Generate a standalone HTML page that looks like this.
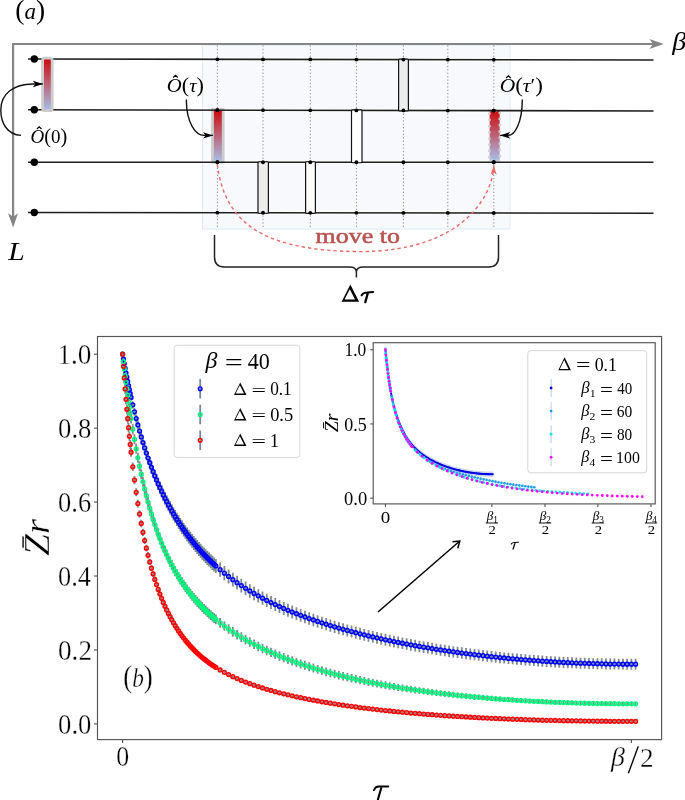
<!DOCTYPE html><html><head><meta charset="utf-8"><style>html,body{margin:0;padding:0;background:#fff;width:685px;height:800px;overflow:hidden}svg{display:block;will-change:transform}text{font-family:"Liberation Serif",serif}</style></head><body>
<svg width="685" height="800" viewBox="0 0 685 800">
<defs><linearGradient id="gr" x1="0" y1="0" x2="0" y2="1"><stop offset="0" stop-color="#cc0a0a"/><stop offset="1" stop-color="#a9c0ea"/></linearGradient><marker id="ah" viewBox="0 0 10 10" refX="10" refY="5" markerWidth="10" markerHeight="10" markerUnits="userSpaceOnUse" orient="auto"><path d="M0,1.8 L10,5 L0,8.2 L2.6,5 z" fill="#000"/></marker><marker id="ahr" viewBox="0 0 10 10" refX="10" refY="5" markerWidth="9" markerHeight="9" markerUnits="userSpaceOnUse" orient="auto"><path d="M0,1.5 L10,5 L0,8.5 L2.6,5 z" fill="#ea6b66"/></marker></defs>
<rect x="202.5" y="45" width="307.5" height="184" fill="#f7f9fd" stroke="#dfe8f6" stroke-width="1"/>
<path d="M12.1,44 H655 M13.1,43 V220" stroke="#858585" stroke-width="2.2" fill="none"/>
<path d="M663.8,44 L649.4,39.1 L653,44 L649.4,48.9 z" fill="#858585"/>
<path d="M13.1,227.6 L8.1,213.2 L13.1,216.8 L18.1,213.2 z" fill="#858585"/>
<line x1="217.4" y1="45.5" x2="217.4" y2="229" stroke="#7a7a7a" stroke-width="0.9" stroke-dasharray="1.2 2.2"/>
<line x1="263.0" y1="45.5" x2="263.0" y2="229" stroke="#7a7a7a" stroke-width="0.9" stroke-dasharray="1.2 2.2"/>
<line x1="310.3" y1="45.5" x2="310.3" y2="229" stroke="#7a7a7a" stroke-width="0.9" stroke-dasharray="1.2 2.2"/>
<line x1="356.4" y1="45.5" x2="356.4" y2="229" stroke="#7a7a7a" stroke-width="0.9" stroke-dasharray="1.2 2.2"/>
<line x1="403.4" y1="45.5" x2="403.4" y2="229" stroke="#7a7a7a" stroke-width="0.9" stroke-dasharray="1.2 2.2"/>
<line x1="447.8" y1="45.5" x2="447.8" y2="229" stroke="#7a7a7a" stroke-width="0.9" stroke-dasharray="1.2 2.2"/>
<line x1="493.8" y1="45.5" x2="493.8" y2="229" stroke="#7a7a7a" stroke-width="0.9" stroke-dasharray="1.2 2.2"/>
<rect x="212.5" y="109.4" width="10.7" height="52.7" fill="url(#gr)" stroke="#cbcbcb" stroke-width="2.8"/>
<rect x="489.6" y="110.5" width="10.1" height="50.5" fill="url(#gr)"/>
<rect x="489.4" y="110.8" width="10.4" height="50" fill="none" stroke="#d0d0d0" stroke-width="2.9" stroke-linecap="round" stroke-dasharray="0 6.2"/>
<line x1="202.5" y1="59.28" x2="210.8" y2="59.29" stroke="#fff" stroke-width="3.6"/>
<line x1="224.6" y1="59.31" x2="488.2" y2="59.74" stroke="#fff" stroke-width="3.6"/>
<line x1="501.2" y1="59.76" x2="510" y2="59.77" stroke="#fff" stroke-width="3.6"/>
<line x1="28" y1="59.0" x2="653.5" y2="60.0" stroke="#1e1e1e" stroke-width="1.55"/>
<line x1="202.5" y1="110.11" x2="210.8" y2="110.12" stroke="#fff" stroke-width="3.6"/>
<line x1="224.6" y1="110.15" x2="488.2" y2="110.61" stroke="#fff" stroke-width="3.6"/>
<line x1="501.2" y1="110.63" x2="510" y2="110.65" stroke="#fff" stroke-width="3.6"/>
<line x1="28" y1="109.8" x2="653.5" y2="110.9" stroke="#1e1e1e" stroke-width="1.55"/>
<line x1="202.5" y1="162.23" x2="210.8" y2="162.23" stroke="#fff" stroke-width="3.6"/>
<line x1="224.6" y1="162.23" x2="488.2" y2="162.27" stroke="#fff" stroke-width="3.6"/>
<line x1="501.2" y1="162.28" x2="510" y2="162.28" stroke="#fff" stroke-width="3.6"/>
<line x1="28" y1="162.2" x2="653.5" y2="162.3" stroke="#1e1e1e" stroke-width="1.55"/>
<line x1="202.5" y1="212.70" x2="210.8" y2="212.70" stroke="#fff" stroke-width="3.6"/>
<line x1="224.6" y1="212.72" x2="488.2" y2="213.02" stroke="#fff" stroke-width="3.6"/>
<line x1="501.2" y1="213.03" x2="510" y2="213.04" stroke="#fff" stroke-width="3.6"/>
<line x1="28" y1="212.5" x2="653.5" y2="213.2" stroke="#1e1e1e" stroke-width="1.55"/>
<circle cx="34.3" cy="59.01" r="3.7" fill="#000"/>
<circle cx="34.3" cy="109.81" r="3.7" fill="#000"/>
<circle cx="34.3" cy="162.20" r="3.7" fill="#000"/>
<circle cx="34.3" cy="212.51" r="3.7" fill="#000"/>
<rect x="398.6" y="59.10" width="9.799999999999955" height="51.86" fill="#ececec" stroke="#111" stroke-width="1.2" rx="1"/>
<rect x="351.5" y="109.88" width="10.5" height="52.87" fill="#ffffff" stroke="#111" stroke-width="1.2" rx="1"/>
<rect x="258.0" y="161.74" width="10.399999999999977" height="51.53" fill="#ececec" stroke="#111" stroke-width="1.2" rx="1"/>
<rect x="305.6" y="161.75" width="9.799999999999955" height="51.57" fill="#ffffff" stroke="#111" stroke-width="1.2" rx="1"/>
<circle cx="217.4" cy="59.30" r="1.9" fill="#000"/>
<circle cx="217.4" cy="110.13" r="1.9" fill="#000"/>
<circle cx="217.4" cy="162.23" r="1.9" fill="#000"/>
<circle cx="217.4" cy="212.71" r="1.9" fill="#000"/>
<circle cx="263.0" cy="59.38" r="1.9" fill="#000"/>
<circle cx="263.0" cy="110.21" r="1.9" fill="#000"/>
<circle cx="263.0" cy="162.24" r="1.9" fill="#000"/>
<circle cx="263.0" cy="212.76" r="1.9" fill="#000"/>
<circle cx="310.3" cy="59.45" r="1.9" fill="#000"/>
<circle cx="310.3" cy="110.30" r="1.9" fill="#000"/>
<circle cx="310.3" cy="162.25" r="1.9" fill="#000"/>
<circle cx="310.3" cy="212.82" r="1.9" fill="#000"/>
<circle cx="356.4" cy="59.53" r="1.9" fill="#000"/>
<circle cx="356.4" cy="110.38" r="1.9" fill="#000"/>
<circle cx="356.4" cy="162.25" r="1.9" fill="#000"/>
<circle cx="356.4" cy="212.87" r="1.9" fill="#000"/>
<circle cx="403.4" cy="59.60" r="1.9" fill="#000"/>
<circle cx="403.4" cy="110.46" r="1.9" fill="#000"/>
<circle cx="403.4" cy="162.26" r="1.9" fill="#000"/>
<circle cx="403.4" cy="212.92" r="1.9" fill="#000"/>
<circle cx="447.8" cy="59.67" r="1.9" fill="#000"/>
<circle cx="447.8" cy="110.54" r="1.9" fill="#000"/>
<circle cx="447.8" cy="162.27" r="1.9" fill="#000"/>
<circle cx="447.8" cy="212.97" r="1.9" fill="#000"/>
<circle cx="493.8" cy="59.74" r="1.9" fill="#000"/>
<circle cx="493.8" cy="110.62" r="1.9" fill="#000"/>
<circle cx="493.8" cy="162.27" r="1.9" fill="#000"/>
<circle cx="493.8" cy="213.02" r="1.9" fill="#000"/>
<rect x="42.6" y="58.2" width="9.6" height="52.4" rx="2.2" fill="url(#gr)" stroke="#cbcbcb" stroke-width="2.8"/>
<circle cx="217.4" cy="110.13" r="1.9" fill="#000"/>
<circle cx="217.4" cy="162.23" r="1.9" fill="#000"/>
<circle cx="493.8" cy="110.62" r="1.9" fill="#000"/>
<circle cx="493.8" cy="162.27" r="1.9" fill="#000"/>
<path d="M21,135.4 C7,134.5 0.8,123 0.8,110 C0.8,93 14,84.2 33,84 L42.9,83.9" stroke="#111" stroke-width="1.4" fill="none" marker-end="url(#ah)"/>
<path d="M186.3,99.5 C186.5,124 196,135.4 204,135.4 L213,135.4" stroke="#111" stroke-width="1.4" fill="none" marker-end="url(#ah)"/>
<path d="M522.3,99.5 C522.3,124 514,135.2 509,135.3 L500.1,135.4" stroke="#111" stroke-width="1.4" fill="none" marker-end="url(#ah)"/>
<path d="M217.3,164.5 C225.3,227.2 268.9,250.4 358,251.6 C468.4,252 493.3,190.4 493.8,165.6" stroke="#ea6b66" stroke-width="1.4" fill="none" stroke-dasharray="3.4 3" marker-end="url(#ahr)"/>
<path d="M214.5,235 V257 Q214.5,267 224.5,267 H349.5 Q356.4,267 356.4,272 V277.5 M356.4,272 Q356.4,267 363.3,267 H488.5 Q498.5,267 498.5,257 V235" stroke="#222" stroke-width="1.5" fill="none"/>
<text transform="translate(15.280,18.509) scale(1.0563,1.0894)" font-size="26" fill="#000" >(<tspan font-style="italic" font-size="21.8">a</tspan>)</text>
<text transform="translate(672.337,50.436) scale(1.0741,0.9389)" font-size="26" fill="#000" ><tspan font-style="italic">β</tspan></text>
<text transform="translate(8.210,260.400) scale(1.2400,1.0730)" font-size="24" fill="#000" ><tspan font-style="italic">L</tspan></text>
<text transform="translate(30.600,143.468) scale(1.0000,1.0192)" font-size="19" fill="#000" ><tspan font-style="italic">O</tspan><tspan font-size="20.4">(</tspan>0<tspan font-size="20.4">)</tspan></text>
<text transform="translate(166.809,92.468) scale(1.0915,1.0192)" font-size="19" fill="#000" ><tspan font-style="italic">O</tspan><tspan font-size="20.4">(</tspan><tspan font-style="italic">τ</tspan><tspan font-size="20.4">)</tspan></text>
<text transform="translate(499.671,92.499) scale(1.1288,1.0356)" font-size="19" fill="#000" ><tspan font-style="italic">O</tspan><tspan font-size="20.4">(</tspan><tspan font-style="italic">τ</tspan>′<tspan font-size="20.4">)</tspan></text>
<text transform="translate(315.481,242.944) scale(1.2373,1.0250)" font-size="21"  fill="#b85450" stroke="#b85450" stroke-width="0.55">move to</text>
<path d="M341.60,301.70 L350.35,284.50 L359.10,301.70 Z M344.51,299.50 L355.06,299.50 L349.79,289.13 Z" fill="#000" fill-rule="evenodd"/>
<path d="M361.6,295.4 C362.6,293.2 364.6,292.4 367.2,292.4 L373.1,292.1" stroke="#000" stroke-width="2" fill="none" stroke-linecap="round"/>
<path d="M367.9,292.8 C367.1,296 366.1,299.2 365.3,302.1" stroke="#000" stroke-width="2.3" fill="none" stroke-linecap="round"/>
<path d="M36.90,129.00 L39.20,126.80 L41.50,129.00" stroke="#000" stroke-width="1.15" fill="none" stroke-linejoin="miter"/>
<path d="M173.20,77.50 L175.50,75.30 L177.80,77.50" stroke="#000" stroke-width="1.15" fill="none" stroke-linejoin="miter"/>
<path d="M506.10,78.00 L508.40,75.80 L510.70,78.00" stroke="#000" stroke-width="1.15" fill="none" stroke-linejoin="miter"/>
<path d="M122.60,353.20V355.20M123.45,357.52V360.59M124.30,362.01V365.54M125.14,366.39V370.36M125.99,370.66V375.04M126.84,374.82V379.60M127.69,378.88V384.04M128.54,382.83V388.37M129.38,386.69V392.58M130.23,390.45V396.68M131.08,394.13V400.68M132.78,401.22V408.38M134.47,407.98V415.70M136.17,414.43V422.68M137.86,420.60V429.32M139.56,426.51V435.67M141.26,432.16V441.72M142.95,437.58V447.51M144.65,442.78V453.05M146.34,447.77V458.35M148.04,452.56V463.44M149.74,457.17V468.31M151.43,461.61V473.00M153.13,465.89V477.50M154.82,470.01V481.83M156.52,473.98V485.99M158.22,477.82V490.00M159.91,481.53V493.87M161.61,485.11V497.60M163.30,488.57V501.20M165.00,491.93V504.68M166.70,495.18V508.05M168.39,498.32V511.30M170.09,501.37V514.45M171.78,504.33V517.49M173.48,507.20V520.45M175.18,509.99V523.31M176.87,512.69V526.09M178.57,515.32V528.78M180.26,517.88V531.40M181.96,520.37V533.94M183.66,522.79V536.41M185.35,525.14V538.81M187.05,527.44V541.15M188.74,529.67V543.42M190.44,531.85V545.64M192.14,533.97V547.79M193.83,536.04V549.89M195.53,538.06V551.94M197.22,540.03V553.93M198.92,541.95V555.88M200.62,543.83V557.78M202.31,545.66V559.63M204.01,547.45V561.44M205.70,549.20V563.21M207.40,550.91V564.93M209.10,552.58V566.62M210.79,554.22V568.27M212.49,555.82V569.88M214.18,557.38V571.45M215.88,558.91V572.99M220.12,562.60V576.70M224.36,566.10V580.22M228.60,569.48V583.50M232.84,572.69V586.62M237.08,575.76V589.59M241.32,578.69V592.43M245.56,581.48V595.13M249.80,584.15V597.71M254.04,586.71V600.18M258.28,589.16V602.55M262.52,591.51V604.81M266.76,593.76V606.99M271.00,595.93V609.08M275.24,598.01V611.09M279.48,600.02V613.02M283.72,601.95V614.88M287.96,603.82V616.68M292.20,605.62V618.41M296.44,607.35V620.08M300.68,609.03V621.70M304.92,610.65V623.26M309.16,612.23V624.77M313.40,613.75V626.23M317.64,615.22V627.65M321.88,616.65V629.03M326.12,618.04V630.37M330.36,619.38V631.66M334.60,620.69V632.92M338.84,621.96V634.14M343.08,623.20V635.33M347.32,624.40V636.49M351.56,625.56V637.62M355.80,626.70V638.71M360.04,627.81V639.78M364.28,628.89V640.82M368.52,629.93V641.83M372.76,630.96V642.82M377.00,631.95V643.78M381.24,632.92V644.71M385.48,633.87V645.63M389.72,634.79V646.52M393.96,635.69V647.39M398.20,636.57V648.24M402.44,637.42V649.06M406.68,638.26V649.87M410.92,639.07V650.65M415.16,639.86V651.42M419.40,640.63V652.17M423.64,641.39V652.90M427.88,642.12V653.61M432.12,642.83V654.30M436.36,643.53V654.97M440.60,644.21V655.63M444.84,644.87V656.27M449.08,645.51V656.89M453.32,646.14V657.50M457.56,646.75V658.09M461.80,647.34V658.67M466.04,647.91V659.22M470.28,648.47V659.77M474.52,649.02V660.29M478.76,649.54V660.80M483.00,650.05V661.30M487.24,650.55V661.78M491.48,651.03V662.25M495.72,651.49V662.70M499.96,651.94V663.13M504.20,652.38V663.55M508.44,652.79V663.96M512.68,653.20V664.35M516.92,653.59V664.73M521.16,653.96V665.09M525.40,654.32V665.44M529.64,654.67V665.77M533.88,655.00V666.09M538.12,655.31V666.40M542.36,655.61V666.69M546.60,655.90V666.97M550.84,656.17V667.23M555.08,656.43V667.49M559.32,656.68V667.72M563.56,656.91V667.94M567.80,657.12V668.15M572.04,657.33V668.35M576.28,657.52V668.53M580.52,657.69V668.70M584.76,657.85V668.85M589.00,658.00V668.99M593.24,658.13V669.12M597.48,658.25V669.23M601.72,658.36V669.33M605.96,658.45V669.42M610.20,658.52V669.49M614.44,658.59V669.55M618.68,658.64V669.59M622.92,658.68V669.62M627.16,658.70V669.64M631.40,658.71V669.65M635.64,658.70V669.64" stroke="#7d8b92" stroke-width="1.8" fill="none"/>
<path d="M122.60,353.20V355.20M123.45,356.53V366.60M124.30,363.67V373.74M125.14,370.59V380.66M125.99,377.30V387.37M126.84,383.81V393.87M127.69,390.12V400.18M128.54,396.24V406.30M129.38,402.17V412.23M130.23,407.93V417.99M131.08,413.52V423.58M132.78,424.21V434.26M134.47,434.28V444.33M136.17,443.77V453.82M137.86,452.73V462.78M139.56,461.19V471.23M141.26,469.18V479.22M142.95,476.74V486.77M144.65,483.89V493.92M146.34,490.66V500.68M148.04,497.07V507.09M149.74,503.15V513.17M151.43,508.92V518.94M153.13,514.41V524.41M154.82,519.61V529.62M156.52,524.57V534.57M158.22,529.29V539.28M159.91,533.78V543.77M161.61,538.07V548.05M163.30,542.16V552.14M165.00,546.06V556.04M166.70,549.80V559.77M168.39,553.37V563.34M170.09,556.79V566.75M171.78,560.07V570.02M173.48,563.21V573.16M175.18,566.23V576.18M176.87,569.13V579.07M178.57,571.92V581.85M180.26,574.60V584.53M181.96,577.18V587.11M183.66,579.67V589.59M185.35,582.07V591.99M187.05,584.39V594.30M188.74,586.63V596.53M190.44,588.80V598.69M192.14,590.89V600.78M193.83,592.92V602.80M195.53,594.89V604.76M197.22,596.79V606.66M198.92,598.64V608.50M200.62,600.44V610.29M202.31,602.18V612.02M204.01,603.88V613.71M205.70,605.52V615.35M207.40,607.13V616.95M209.10,608.69V618.50M210.79,610.21V620.02M212.49,611.70V621.49M214.18,613.14V622.93M215.88,614.55V624.33M220.12,617.94V627.69M224.36,621.14V630.87M228.60,624.16V633.87M232.84,627.03V636.72M237.08,629.77V639.42M241.32,632.37V641.99M245.56,634.85V644.45M249.80,637.22V646.79M254.04,639.50V649.03M258.28,641.68V651.17M262.52,643.77V653.23M266.76,645.78V655.20M271.00,647.71V657.09M275.24,649.57V658.91M279.48,651.36V660.66M283.72,653.08V662.34M287.96,654.75V663.96M292.20,656.36V665.52M296.44,657.91V667.02M300.68,659.41V668.47M304.92,660.86V669.86M309.16,662.26V671.21M313.40,663.62V672.51M317.64,664.94V673.76M321.88,666.21V674.97M326.12,667.45V676.14M330.36,668.64V677.27M334.60,669.80V678.37M338.84,670.93V679.42M343.08,672.02V680.44M347.32,673.08V681.42M351.56,674.11V682.38M355.80,675.11V683.30M360.04,676.08V684.18M364.28,677.03V685.04M368.52,677.94V685.88M372.76,678.83V686.68M377.00,679.70V687.46M381.24,680.54V688.21M385.48,681.36V688.94M389.72,682.16V689.64M393.96,682.93V690.32M398.20,683.69V690.98M402.44,684.42V691.61M406.68,685.13V692.23M410.92,685.83V692.83M415.16,686.50V693.40M419.40,687.16V693.96M423.64,687.79V694.49M427.88,688.41V695.01M432.12,689.02V695.52M436.36,689.60V696.00M440.60,690.17V696.47M444.84,690.73V696.93M449.08,691.26V697.37M453.32,691.78V697.79M457.56,692.29V698.20M461.80,692.78V698.60M466.04,693.26V698.98M470.28,693.72V699.35M474.52,694.17V699.70M478.76,694.60V700.04M483.00,695.02V700.37M487.24,695.43V700.69M491.48,695.82V701.00M495.72,696.20V701.29M499.96,696.56V701.58M504.20,696.91V701.85M508.44,697.25V702.11M512.68,697.58V702.36M516.92,697.89V702.60M521.16,698.20V702.83M525.40,698.49V703.06M529.64,698.76V703.27M533.88,699.03V703.47M538.12,699.28V703.66M542.36,699.53V703.84M546.60,699.76V704.01M550.84,699.97V704.17M555.08,700.18V704.33M559.32,700.38V704.47M563.56,700.56V704.60M567.80,700.74V704.73M572.04,700.90V704.85M576.28,701.05V704.95M580.52,701.19V705.05M584.76,701.33V705.14M589.00,701.45V705.22M593.24,701.56V705.30M597.48,701.65V705.36M601.72,701.74V705.41M605.96,701.82V705.46M610.20,701.89V705.49M614.44,701.95V705.52M618.68,701.99V705.54M622.92,702.03V705.55M627.16,702.06V705.55M631.40,702.08V705.54M635.64,702.08V705.53" stroke="#7d8b92" stroke-width="1.8" fill="none"/>
<path d="M122.60,353.20V355.20M123.45,361.26V371.48M124.30,372.90V382.95M125.14,383.96V393.84M125.99,394.47V404.19M126.84,404.47V414.03M127.69,413.99V423.39M128.54,423.06V432.31M129.38,431.70V440.80M130.23,439.95V448.90M131.08,447.83V456.63M132.78,462.54V471.06M134.47,475.99V484.25M136.17,488.34V496.34M137.86,499.69V507.45M139.56,510.15V517.68M141.26,519.82V527.13M142.95,528.78V535.88M144.65,537.10V543.99M146.34,544.83V551.53M148.04,552.04V558.55M149.74,558.78V565.11M151.43,565.08V571.24M153.13,570.99V576.98M154.82,576.54V582.37M156.52,581.75V587.44M158.22,586.67V592.21M159.91,591.30V596.71M161.61,595.68V600.96M163.30,599.82V604.97M165.00,603.74V608.77M166.70,607.45V612.37M168.39,610.98V615.79M170.09,614.33V619.03M171.78,617.51V622.12M173.48,620.54V625.05M175.18,623.43V627.85M176.87,626.18V630.51M178.57,628.81V633.05M180.26,631.32V635.48M181.96,633.71V637.80M183.66,636.01V640.02M185.35,638.20V642.15M187.05,640.30V644.18M188.74,642.32V646.13M190.44,644.25V648.00M192.14,646.10V649.80M193.83,647.88V651.52M195.53,649.59V653.18M197.22,651.24V654.77M198.92,652.82V656.30M200.62,654.34V657.78M202.31,655.81V659.20M204.01,657.23V660.57M205.70,658.59V661.90M207.40,659.90V663.17M209.10,661.17V664.40M210.79,662.40V665.59M212.49,663.59V666.74M214.18,664.73V667.86M215.88,665.84V668.94M220.12,668.46V671.48M224.36,670.89V673.84M228.60,673.13V676.03M232.84,675.23V678.07M237.08,677.18V679.98M241.32,679.01V681.76M245.56,680.72V683.44M249.80,682.34V685.03M254.04,683.86V686.52M258.28,685.30V687.93M262.52,686.67V689.28M266.76,687.97V690.55M271.00,689.20V691.77M275.24,690.38V692.93M279.48,691.50V694.03M283.72,692.58V695.09M287.96,693.61V696.11M292.20,694.59V697.09M296.44,695.54V698.02M300.68,696.45V698.93M304.92,697.33V699.79M309.16,698.17V700.63M313.40,698.98V701.44M317.64,699.77V702.22M321.88,700.52V702.97M326.12,701.25V703.69M330.36,701.96V704.40M334.60,702.64V705.07M338.84,703.30V705.73M343.08,703.94V706.37M347.32,704.56V706.98M351.56,705.16V707.58M355.80,705.74V708.15M360.04,706.30V708.71M364.28,706.84V709.25M368.52,707.36V709.78M372.76,707.87V710.29M377.00,708.37V710.78M381.24,708.85V711.25M385.48,709.31V711.72M389.72,709.76V712.16M393.96,710.19V712.60M398.20,710.61V713.02M402.44,711.02V713.43M406.68,711.42V713.82M410.92,711.80V714.20M415.16,712.17V714.57M419.40,712.53V714.93M423.64,712.88V715.28M427.88,713.21V715.62M432.12,713.54V715.94M436.36,713.85V716.26M440.60,714.16V716.56M444.84,714.45V716.86M449.08,714.74V717.14M453.32,715.01V717.42M457.56,715.28V717.68M461.80,715.54V717.94M466.04,715.79V718.19M470.28,716.03V718.43M474.52,716.26V718.66M478.76,716.48V718.88M483.00,716.70V719.10M487.24,716.90V719.30M491.48,717.10V719.50M495.72,717.29V719.69M499.96,717.48V719.88M504.20,717.66V720.06M508.44,717.83V720.23M512.68,717.99V720.39M516.92,718.15V720.55M521.16,718.29V720.69M525.40,718.44V720.84M529.64,718.57V720.97M533.88,718.70V721.10M538.12,718.83V721.23M542.36,718.95V721.35M546.60,719.06V721.46M550.84,719.16V721.56M555.08,719.26V721.66M559.32,719.36V721.76M563.56,719.44V721.84M567.80,719.53V721.93M572.04,719.60V722.00M576.28,719.67V722.07M580.52,719.74V722.14M584.76,719.80V722.20M589.00,719.85V722.25M593.24,719.90V722.30M597.48,719.95V722.35M601.72,719.99V722.39M605.96,720.02V722.42M610.20,720.05V722.45M614.44,720.07V722.47M618.68,720.09V722.49M622.92,720.10V722.50M627.16,720.11V722.51M631.40,720.11V722.51M635.64,720.11V722.51" stroke="#7d8b92" stroke-width="1.8" fill="none"/>
<g fill="none" stroke="#0000ff" stroke-width="1.55"><circle cx="122.60" cy="354.20" r="1.85"/><circle cx="123.45" cy="359.05" r="1.85"/><circle cx="124.30" cy="363.78" r="1.85"/><circle cx="125.14" cy="368.37" r="1.85"/><circle cx="125.99" cy="372.85" r="1.85"/><circle cx="126.84" cy="377.21" r="1.85"/><circle cx="127.69" cy="381.46" r="1.85"/><circle cx="128.54" cy="385.60" r="1.85"/><circle cx="129.38" cy="389.63" r="1.85"/><circle cx="130.23" cy="393.57" r="1.85"/><circle cx="131.08" cy="397.40" r="1.85"/><circle cx="132.78" cy="404.80" r="1.85"/><circle cx="134.47" cy="411.84" r="1.85"/><circle cx="136.17" cy="418.56" r="1.85"/><circle cx="137.86" cy="424.96" r="1.85"/><circle cx="139.56" cy="431.09" r="1.85"/><circle cx="141.26" cy="436.94" r="1.85"/><circle cx="142.95" cy="442.54" r="1.85"/><circle cx="144.65" cy="447.91" r="1.85"/><circle cx="146.34" cy="453.06" r="1.85"/><circle cx="148.04" cy="458.00" r="1.85"/><circle cx="149.74" cy="462.74" r="1.85"/><circle cx="151.43" cy="467.30" r="1.85"/><circle cx="153.13" cy="471.69" r="1.85"/><circle cx="154.82" cy="475.92" r="1.85"/><circle cx="156.52" cy="479.99" r="1.85"/><circle cx="158.22" cy="483.91" r="1.85"/><circle cx="159.91" cy="487.70" r="1.85"/><circle cx="161.61" cy="491.36" r="1.85"/><circle cx="163.30" cy="494.89" r="1.85"/><circle cx="165.00" cy="498.31" r="1.85"/><circle cx="166.70" cy="501.61" r="1.85"/><circle cx="168.39" cy="504.81" r="1.85"/><circle cx="170.09" cy="507.91" r="1.85"/><circle cx="171.78" cy="510.91" r="1.85"/><circle cx="173.48" cy="513.82" r="1.85"/><circle cx="175.18" cy="516.65" r="1.85"/><circle cx="176.87" cy="519.39" r="1.85"/><circle cx="178.57" cy="522.05" r="1.85"/><circle cx="180.26" cy="524.64" r="1.85"/><circle cx="181.96" cy="527.16" r="1.85"/><circle cx="183.66" cy="529.60" r="1.85"/><circle cx="185.35" cy="531.98" r="1.85"/><circle cx="187.05" cy="534.29" r="1.85"/><circle cx="188.74" cy="536.55" r="1.85"/><circle cx="190.44" cy="538.74" r="1.85"/><circle cx="192.14" cy="540.88" r="1.85"/><circle cx="193.83" cy="542.97" r="1.85"/><circle cx="195.53" cy="545.00" r="1.85"/><circle cx="197.22" cy="546.98" r="1.85"/><circle cx="198.92" cy="548.92" r="1.85"/><circle cx="200.62" cy="550.80" r="1.85"/><circle cx="202.31" cy="552.65" r="1.85"/><circle cx="204.01" cy="554.45" r="1.85"/><circle cx="205.70" cy="556.20" r="1.85"/><circle cx="207.40" cy="557.92" r="1.85"/><circle cx="209.10" cy="559.60" r="1.85"/><circle cx="210.79" cy="561.24" r="1.85"/><circle cx="212.49" cy="562.85" r="1.85"/><circle cx="214.18" cy="564.42" r="1.85"/><circle cx="215.88" cy="565.95" r="1.85"/><circle cx="220.12" cy="569.65" r="1.85"/><circle cx="224.36" cy="573.16" r="1.85"/><circle cx="228.60" cy="576.49" r="1.85"/><circle cx="232.84" cy="579.66" r="1.85"/><circle cx="237.08" cy="582.68" r="1.85"/><circle cx="241.32" cy="585.56" r="1.85"/><circle cx="245.56" cy="588.30" r="1.85"/><circle cx="249.80" cy="590.93" r="1.85"/><circle cx="254.04" cy="593.44" r="1.85"/><circle cx="258.28" cy="595.85" r="1.85"/><circle cx="262.52" cy="598.16" r="1.85"/><circle cx="266.76" cy="600.38" r="1.85"/><circle cx="271.00" cy="602.50" r="1.85"/><circle cx="275.24" cy="604.55" r="1.85"/><circle cx="279.48" cy="606.52" r="1.85"/><circle cx="283.72" cy="608.42" r="1.85"/><circle cx="287.96" cy="610.25" r="1.85"/><circle cx="292.20" cy="612.01" r="1.85"/><circle cx="296.44" cy="613.72" r="1.85"/><circle cx="300.68" cy="615.36" r="1.85"/><circle cx="304.92" cy="616.96" r="1.85"/><circle cx="309.16" cy="618.50" r="1.85"/><circle cx="313.40" cy="619.99" r="1.85"/><circle cx="317.64" cy="621.44" r="1.85"/><circle cx="321.88" cy="622.84" r="1.85"/><circle cx="326.12" cy="624.20" r="1.85"/><circle cx="330.36" cy="625.52" r="1.85"/><circle cx="334.60" cy="626.81" r="1.85"/><circle cx="338.84" cy="628.05" r="1.85"/><circle cx="343.08" cy="629.26" r="1.85"/><circle cx="347.32" cy="630.44" r="1.85"/><circle cx="351.56" cy="631.59" r="1.85"/><circle cx="355.80" cy="632.71" r="1.85"/><circle cx="360.04" cy="633.79" r="1.85"/><circle cx="364.28" cy="634.85" r="1.85"/><circle cx="368.52" cy="635.88" r="1.85"/><circle cx="372.76" cy="636.89" r="1.85"/><circle cx="377.00" cy="637.87" r="1.85"/><circle cx="381.24" cy="638.82" r="1.85"/><circle cx="385.48" cy="639.75" r="1.85"/><circle cx="389.72" cy="640.66" r="1.85"/><circle cx="393.96" cy="641.54" r="1.85"/><circle cx="398.20" cy="642.40" r="1.85"/><circle cx="402.44" cy="643.24" r="1.85"/><circle cx="406.68" cy="644.06" r="1.85"/><circle cx="410.92" cy="644.86" r="1.85"/><circle cx="415.16" cy="645.64" r="1.85"/><circle cx="419.40" cy="646.40" r="1.85"/><circle cx="423.64" cy="647.14" r="1.85"/><circle cx="427.88" cy="647.86" r="1.85"/><circle cx="432.12" cy="648.57" r="1.85"/><circle cx="436.36" cy="649.25" r="1.85"/><circle cx="440.60" cy="649.92" r="1.85"/><circle cx="444.84" cy="650.57" r="1.85"/><circle cx="449.08" cy="651.20" r="1.85"/><circle cx="453.32" cy="651.82" r="1.85"/><circle cx="457.56" cy="652.42" r="1.85"/><circle cx="461.80" cy="653.00" r="1.85"/><circle cx="466.04" cy="653.57" r="1.85"/><circle cx="470.28" cy="654.12" r="1.85"/><circle cx="474.52" cy="654.65" r="1.85"/><circle cx="478.76" cy="655.17" r="1.85"/><circle cx="483.00" cy="655.68" r="1.85"/><circle cx="487.24" cy="656.16" r="1.85"/><circle cx="491.48" cy="656.64" r="1.85"/><circle cx="495.72" cy="657.09" r="1.85"/><circle cx="499.96" cy="657.54" r="1.85"/><circle cx="504.20" cy="657.96" r="1.85"/><circle cx="508.44" cy="658.38" r="1.85"/><circle cx="512.68" cy="658.77" r="1.85"/><circle cx="516.92" cy="659.16" r="1.85"/><circle cx="521.16" cy="659.53" r="1.85"/><circle cx="525.40" cy="659.88" r="1.85"/><circle cx="529.64" cy="660.22" r="1.85"/><circle cx="533.88" cy="660.55" r="1.85"/><circle cx="538.12" cy="660.86" r="1.85"/><circle cx="542.36" cy="661.15" r="1.85"/><circle cx="546.60" cy="661.44" r="1.85"/><circle cx="550.84" cy="661.70" r="1.85"/><circle cx="555.08" cy="661.96" r="1.85"/><circle cx="559.32" cy="662.20" r="1.85"/><circle cx="563.56" cy="662.43" r="1.85"/><circle cx="567.80" cy="662.64" r="1.85"/><circle cx="572.04" cy="662.84" r="1.85"/><circle cx="576.28" cy="663.02" r="1.85"/><circle cx="580.52" cy="663.19" r="1.85"/><circle cx="584.76" cy="663.35" r="1.85"/><circle cx="589.00" cy="663.49" r="1.85"/><circle cx="593.24" cy="663.62" r="1.85"/><circle cx="597.48" cy="663.74" r="1.85"/><circle cx="601.72" cy="663.84" r="1.85"/><circle cx="605.96" cy="663.93" r="1.85"/><circle cx="610.20" cy="664.01" r="1.85"/><circle cx="614.44" cy="664.07" r="1.85"/><circle cx="618.68" cy="664.12" r="1.85"/><circle cx="622.92" cy="664.15" r="1.85"/><circle cx="627.16" cy="664.17" r="1.85"/><circle cx="631.40" cy="664.18" r="1.85"/><circle cx="635.64" cy="664.17" r="1.85"/></g>
<g fill="none" stroke="#00f87c" stroke-width="1.55"><circle cx="122.60" cy="354.20" r="1.85"/><circle cx="123.45" cy="361.57" r="1.85"/><circle cx="124.30" cy="368.71" r="1.85"/><circle cx="125.14" cy="375.63" r="1.85"/><circle cx="125.99" cy="382.34" r="1.85"/><circle cx="126.84" cy="388.84" r="1.85"/><circle cx="127.69" cy="395.15" r="1.85"/><circle cx="128.54" cy="401.27" r="1.85"/><circle cx="129.38" cy="407.20" r="1.85"/><circle cx="130.23" cy="412.96" r="1.85"/><circle cx="131.08" cy="418.55" r="1.85"/><circle cx="132.78" cy="429.23" r="1.85"/><circle cx="134.47" cy="439.30" r="1.85"/><circle cx="136.17" cy="448.80" r="1.85"/><circle cx="137.86" cy="457.75" r="1.85"/><circle cx="139.56" cy="466.21" r="1.85"/><circle cx="141.26" cy="474.20" r="1.85"/><circle cx="142.95" cy="481.76" r="1.85"/><circle cx="144.65" cy="488.90" r="1.85"/><circle cx="146.34" cy="495.67" r="1.85"/><circle cx="148.04" cy="502.08" r="1.85"/><circle cx="149.74" cy="508.16" r="1.85"/><circle cx="151.43" cy="513.93" r="1.85"/><circle cx="153.13" cy="519.41" r="1.85"/><circle cx="154.82" cy="524.62" r="1.85"/><circle cx="156.52" cy="529.57" r="1.85"/><circle cx="158.22" cy="534.28" r="1.85"/><circle cx="159.91" cy="538.78" r="1.85"/><circle cx="161.61" cy="543.06" r="1.85"/><circle cx="163.30" cy="547.15" r="1.85"/><circle cx="165.00" cy="551.05" r="1.85"/><circle cx="166.70" cy="554.78" r="1.85"/><circle cx="168.39" cy="558.35" r="1.85"/><circle cx="170.09" cy="561.77" r="1.85"/><circle cx="171.78" cy="565.05" r="1.85"/><circle cx="173.48" cy="568.19" r="1.85"/><circle cx="175.18" cy="571.20" r="1.85"/><circle cx="176.87" cy="574.10" r="1.85"/><circle cx="178.57" cy="576.88" r="1.85"/><circle cx="180.26" cy="579.56" r="1.85"/><circle cx="181.96" cy="582.14" r="1.85"/><circle cx="183.66" cy="584.63" r="1.85"/><circle cx="185.35" cy="587.03" r="1.85"/><circle cx="187.05" cy="589.35" r="1.85"/><circle cx="188.74" cy="591.58" r="1.85"/><circle cx="190.44" cy="593.75" r="1.85"/><circle cx="192.14" cy="595.84" r="1.85"/><circle cx="193.83" cy="597.86" r="1.85"/><circle cx="195.53" cy="599.82" r="1.85"/><circle cx="197.22" cy="601.73" r="1.85"/><circle cx="198.92" cy="603.57" r="1.85"/><circle cx="200.62" cy="605.36" r="1.85"/><circle cx="202.31" cy="607.10" r="1.85"/><circle cx="204.01" cy="608.79" r="1.85"/><circle cx="205.70" cy="610.44" r="1.85"/><circle cx="207.40" cy="612.04" r="1.85"/><circle cx="209.10" cy="613.60" r="1.85"/><circle cx="210.79" cy="615.11" r="1.85"/><circle cx="212.49" cy="616.59" r="1.85"/><circle cx="214.18" cy="618.04" r="1.85"/><circle cx="215.88" cy="619.44" r="1.85"/><circle cx="220.12" cy="622.82" r="1.85"/><circle cx="224.36" cy="626.00" r="1.85"/><circle cx="228.60" cy="629.02" r="1.85"/><circle cx="232.84" cy="631.87" r="1.85"/><circle cx="237.08" cy="634.59" r="1.85"/><circle cx="241.32" cy="637.18" r="1.85"/><circle cx="245.56" cy="639.65" r="1.85"/><circle cx="249.80" cy="642.01" r="1.85"/><circle cx="254.04" cy="644.26" r="1.85"/><circle cx="258.28" cy="646.42" r="1.85"/><circle cx="262.52" cy="648.50" r="1.85"/><circle cx="266.76" cy="650.49" r="1.85"/><circle cx="271.00" cy="652.40" r="1.85"/><circle cx="275.24" cy="654.24" r="1.85"/><circle cx="279.48" cy="656.01" r="1.85"/><circle cx="283.72" cy="657.71" r="1.85"/><circle cx="287.96" cy="659.35" r="1.85"/><circle cx="292.20" cy="660.94" r="1.85"/><circle cx="296.44" cy="662.46" r="1.85"/><circle cx="300.68" cy="663.94" r="1.85"/><circle cx="304.92" cy="665.36" r="1.85"/><circle cx="309.16" cy="666.74" r="1.85"/><circle cx="313.40" cy="668.07" r="1.85"/><circle cx="317.64" cy="669.35" r="1.85"/><circle cx="321.88" cy="670.59" r="1.85"/><circle cx="326.12" cy="671.80" r="1.85"/><circle cx="330.36" cy="672.96" r="1.85"/><circle cx="334.60" cy="674.08" r="1.85"/><circle cx="338.84" cy="675.17" r="1.85"/><circle cx="343.08" cy="676.23" r="1.85"/><circle cx="347.32" cy="677.25" r="1.85"/><circle cx="351.56" cy="678.24" r="1.85"/><circle cx="355.80" cy="679.20" r="1.85"/><circle cx="360.04" cy="680.13" r="1.85"/><circle cx="364.28" cy="681.04" r="1.85"/><circle cx="368.52" cy="681.91" r="1.85"/><circle cx="372.76" cy="682.76" r="1.85"/><circle cx="377.00" cy="683.58" r="1.85"/><circle cx="381.24" cy="684.38" r="1.85"/><circle cx="385.48" cy="685.15" r="1.85"/><circle cx="389.72" cy="685.90" r="1.85"/><circle cx="393.96" cy="686.63" r="1.85"/><circle cx="398.20" cy="687.33" r="1.85"/><circle cx="402.44" cy="688.02" r="1.85"/><circle cx="406.68" cy="688.68" r="1.85"/><circle cx="410.92" cy="689.33" r="1.85"/><circle cx="415.16" cy="689.95" r="1.85"/><circle cx="419.40" cy="690.56" r="1.85"/><circle cx="423.64" cy="691.14" r="1.85"/><circle cx="427.88" cy="691.71" r="1.85"/><circle cx="432.12" cy="692.27" r="1.85"/><circle cx="436.36" cy="692.80" r="1.85"/><circle cx="440.60" cy="693.32" r="1.85"/><circle cx="444.84" cy="693.83" r="1.85"/><circle cx="449.08" cy="694.31" r="1.85"/><circle cx="453.32" cy="694.79" r="1.85"/><circle cx="457.56" cy="695.25" r="1.85"/><circle cx="461.80" cy="695.69" r="1.85"/><circle cx="466.04" cy="696.12" r="1.85"/><circle cx="470.28" cy="696.53" r="1.85"/><circle cx="474.52" cy="696.93" r="1.85"/><circle cx="478.76" cy="697.32" r="1.85"/><circle cx="483.00" cy="697.70" r="1.85"/><circle cx="487.24" cy="698.06" r="1.85"/><circle cx="491.48" cy="698.41" r="1.85"/><circle cx="495.72" cy="698.75" r="1.85"/><circle cx="499.96" cy="699.07" r="1.85"/><circle cx="504.20" cy="699.38" r="1.85"/><circle cx="508.44" cy="699.68" r="1.85"/><circle cx="512.68" cy="699.97" r="1.85"/><circle cx="516.92" cy="700.25" r="1.85"/><circle cx="521.16" cy="700.52" r="1.85"/><circle cx="525.40" cy="700.77" r="1.85"/><circle cx="529.64" cy="701.01" r="1.85"/><circle cx="533.88" cy="701.25" r="1.85"/><circle cx="538.12" cy="701.47" r="1.85"/><circle cx="542.36" cy="701.68" r="1.85"/><circle cx="546.60" cy="701.88" r="1.85"/><circle cx="550.84" cy="702.07" r="1.85"/><circle cx="555.08" cy="702.25" r="1.85"/><circle cx="559.32" cy="702.42" r="1.85"/><circle cx="563.56" cy="702.58" r="1.85"/><circle cx="567.80" cy="702.73" r="1.85"/><circle cx="572.04" cy="702.87" r="1.85"/><circle cx="576.28" cy="703.00" r="1.85"/><circle cx="580.52" cy="703.12" r="1.85"/><circle cx="584.76" cy="703.23" r="1.85"/><circle cx="589.00" cy="703.33" r="1.85"/><circle cx="593.24" cy="703.43" r="1.85"/><circle cx="597.48" cy="703.51" r="1.85"/><circle cx="601.72" cy="703.58" r="1.85"/><circle cx="605.96" cy="703.64" r="1.85"/><circle cx="610.20" cy="703.69" r="1.85"/><circle cx="614.44" cy="703.73" r="1.85"/><circle cx="618.68" cy="703.77" r="1.85"/><circle cx="622.92" cy="703.79" r="1.85"/><circle cx="627.16" cy="703.81" r="1.85"/><circle cx="631.40" cy="703.81" r="1.85"/><circle cx="635.64" cy="703.81" r="1.85"/></g>
<g fill="none" stroke="#ff0000" stroke-width="1.55"><circle cx="122.60" cy="354.20" r="1.85"/><circle cx="123.45" cy="366.37" r="1.85"/><circle cx="124.30" cy="377.92" r="1.85"/><circle cx="125.14" cy="388.90" r="1.85"/><circle cx="125.99" cy="399.33" r="1.85"/><circle cx="126.84" cy="409.25" r="1.85"/><circle cx="127.69" cy="418.69" r="1.85"/><circle cx="128.54" cy="427.68" r="1.85"/><circle cx="129.38" cy="436.25" r="1.85"/><circle cx="130.23" cy="444.43" r="1.85"/><circle cx="131.08" cy="452.23" r="1.85"/><circle cx="132.78" cy="466.80" r="1.85"/><circle cx="134.47" cy="480.12" r="1.85"/><circle cx="136.17" cy="492.34" r="1.85"/><circle cx="137.86" cy="503.57" r="1.85"/><circle cx="139.56" cy="513.92" r="1.85"/><circle cx="141.26" cy="523.48" r="1.85"/><circle cx="142.95" cy="532.33" r="1.85"/><circle cx="144.65" cy="540.54" r="1.85"/><circle cx="146.34" cy="548.18" r="1.85"/><circle cx="148.04" cy="555.30" r="1.85"/><circle cx="149.74" cy="561.94" r="1.85"/><circle cx="151.43" cy="568.16" r="1.85"/><circle cx="153.13" cy="573.99" r="1.85"/><circle cx="154.82" cy="579.46" r="1.85"/><circle cx="156.52" cy="584.60" r="1.85"/><circle cx="158.22" cy="589.44" r="1.85"/><circle cx="159.91" cy="594.01" r="1.85"/><circle cx="161.61" cy="598.32" r="1.85"/><circle cx="163.30" cy="602.39" r="1.85"/><circle cx="165.00" cy="606.25" r="1.85"/><circle cx="166.70" cy="609.91" r="1.85"/><circle cx="168.39" cy="613.38" r="1.85"/><circle cx="170.09" cy="616.68" r="1.85"/><circle cx="171.78" cy="619.81" r="1.85"/><circle cx="173.48" cy="622.80" r="1.85"/><circle cx="175.18" cy="625.64" r="1.85"/><circle cx="176.87" cy="628.35" r="1.85"/><circle cx="178.57" cy="630.93" r="1.85"/><circle cx="180.26" cy="633.40" r="1.85"/><circle cx="181.96" cy="635.76" r="1.85"/><circle cx="183.66" cy="638.02" r="1.85"/><circle cx="185.35" cy="640.17" r="1.85"/><circle cx="187.05" cy="642.24" r="1.85"/><circle cx="188.74" cy="644.23" r="1.85"/><circle cx="190.44" cy="646.13" r="1.85"/><circle cx="192.14" cy="647.95" r="1.85"/><circle cx="193.83" cy="649.70" r="1.85"/><circle cx="195.53" cy="651.39" r="1.85"/><circle cx="197.22" cy="653.01" r="1.85"/><circle cx="198.92" cy="654.56" r="1.85"/><circle cx="200.62" cy="656.06" r="1.85"/><circle cx="202.31" cy="657.51" r="1.85"/><circle cx="204.01" cy="658.90" r="1.85"/><circle cx="205.70" cy="660.24" r="1.85"/><circle cx="207.40" cy="661.54" r="1.85"/><circle cx="209.10" cy="662.79" r="1.85"/><circle cx="210.79" cy="664.00" r="1.85"/><circle cx="212.49" cy="665.17" r="1.85"/><circle cx="214.18" cy="666.30" r="1.85"/><circle cx="215.88" cy="667.39" r="1.85"/><circle cx="220.12" cy="669.97" r="1.85"/><circle cx="224.36" cy="672.36" r="1.85"/><circle cx="228.60" cy="674.58" r="1.85"/><circle cx="232.84" cy="676.65" r="1.85"/><circle cx="237.08" cy="678.58" r="1.85"/><circle cx="241.32" cy="680.39" r="1.85"/><circle cx="245.56" cy="682.08" r="1.85"/><circle cx="249.80" cy="683.68" r="1.85"/><circle cx="254.04" cy="685.19" r="1.85"/><circle cx="258.28" cy="686.62" r="1.85"/><circle cx="262.52" cy="687.97" r="1.85"/><circle cx="266.76" cy="689.26" r="1.85"/><circle cx="271.00" cy="690.48" r="1.85"/><circle cx="275.24" cy="691.65" r="1.85"/><circle cx="279.48" cy="692.77" r="1.85"/><circle cx="283.72" cy="693.84" r="1.85"/><circle cx="287.96" cy="694.86" r="1.85"/><circle cx="292.20" cy="695.84" r="1.85"/><circle cx="296.44" cy="696.78" r="1.85"/><circle cx="300.68" cy="697.69" r="1.85"/><circle cx="304.92" cy="698.56" r="1.85"/><circle cx="309.16" cy="699.40" r="1.85"/><circle cx="313.40" cy="700.21" r="1.85"/><circle cx="317.64" cy="700.99" r="1.85"/><circle cx="321.88" cy="701.75" r="1.85"/><circle cx="326.12" cy="702.47" r="1.85"/><circle cx="330.36" cy="703.18" r="1.85"/><circle cx="334.60" cy="703.86" r="1.85"/><circle cx="338.84" cy="704.52" r="1.85"/><circle cx="343.08" cy="705.15" r="1.85"/><circle cx="347.32" cy="705.77" r="1.85"/><circle cx="351.56" cy="706.37" r="1.85"/><circle cx="355.80" cy="706.94" r="1.85"/><circle cx="360.04" cy="707.50" r="1.85"/><circle cx="364.28" cy="708.05" r="1.85"/><circle cx="368.52" cy="708.57" r="1.85"/><circle cx="372.76" cy="709.08" r="1.85"/><circle cx="377.00" cy="709.57" r="1.85"/><circle cx="381.24" cy="710.05" r="1.85"/><circle cx="385.48" cy="710.51" r="1.85"/><circle cx="389.72" cy="710.96" r="1.85"/><circle cx="393.96" cy="711.40" r="1.85"/><circle cx="398.20" cy="711.82" r="1.85"/><circle cx="402.44" cy="712.22" r="1.85"/><circle cx="406.68" cy="712.62" r="1.85"/><circle cx="410.92" cy="713.00" r="1.85"/><circle cx="415.16" cy="713.37" r="1.85"/><circle cx="419.40" cy="713.73" r="1.85"/><circle cx="423.64" cy="714.08" r="1.85"/><circle cx="427.88" cy="714.41" r="1.85"/><circle cx="432.12" cy="714.74" r="1.85"/><circle cx="436.36" cy="715.06" r="1.85"/><circle cx="440.60" cy="715.36" r="1.85"/><circle cx="444.84" cy="715.65" r="1.85"/><circle cx="449.08" cy="715.94" r="1.85"/><circle cx="453.32" cy="716.22" r="1.85"/><circle cx="457.56" cy="716.48" r="1.85"/><circle cx="461.80" cy="716.74" r="1.85"/><circle cx="466.04" cy="716.99" r="1.85"/><circle cx="470.28" cy="717.23" r="1.85"/><circle cx="474.52" cy="717.46" r="1.85"/><circle cx="478.76" cy="717.68" r="1.85"/><circle cx="483.00" cy="717.90" r="1.85"/><circle cx="487.24" cy="718.10" r="1.85"/><circle cx="491.48" cy="718.30" r="1.85"/><circle cx="495.72" cy="718.49" r="1.85"/><circle cx="499.96" cy="718.68" r="1.85"/><circle cx="504.20" cy="718.86" r="1.85"/><circle cx="508.44" cy="719.03" r="1.85"/><circle cx="512.68" cy="719.19" r="1.85"/><circle cx="516.92" cy="719.35" r="1.85"/><circle cx="521.16" cy="719.49" r="1.85"/><circle cx="525.40" cy="719.64" r="1.85"/><circle cx="529.64" cy="719.77" r="1.85"/><circle cx="533.88" cy="719.90" r="1.85"/><circle cx="538.12" cy="720.03" r="1.85"/><circle cx="542.36" cy="720.15" r="1.85"/><circle cx="546.60" cy="720.26" r="1.85"/><circle cx="550.84" cy="720.36" r="1.85"/><circle cx="555.08" cy="720.46" r="1.85"/><circle cx="559.32" cy="720.56" r="1.85"/><circle cx="563.56" cy="720.64" r="1.85"/><circle cx="567.80" cy="720.73" r="1.85"/><circle cx="572.04" cy="720.80" r="1.85"/><circle cx="576.28" cy="720.87" r="1.85"/><circle cx="580.52" cy="720.94" r="1.85"/><circle cx="584.76" cy="721.00" r="1.85"/><circle cx="589.00" cy="721.05" r="1.85"/><circle cx="593.24" cy="721.10" r="1.85"/><circle cx="597.48" cy="721.15" r="1.85"/><circle cx="601.72" cy="721.19" r="1.85"/><circle cx="605.96" cy="721.22" r="1.85"/><circle cx="610.20" cy="721.25" r="1.85"/><circle cx="614.44" cy="721.27" r="1.85"/><circle cx="618.68" cy="721.29" r="1.85"/><circle cx="622.92" cy="721.30" r="1.85"/><circle cx="627.16" cy="721.31" r="1.85"/><circle cx="631.40" cy="721.31" r="1.85"/><circle cx="635.64" cy="721.31" r="1.85"/></g>
<rect x="97.5" y="336.5" width="564.1" height="403.1" fill="none" stroke="#555" stroke-width="1.15"/>
<line x1="94.0" y1="723.90" x2="97.5" y2="723.90" stroke="#555" stroke-width="1.15"/>
<text transform="translate(58.045,734.044) scale(0.9545,1.0240)" font-size="28" fill="#000"  stroke="#fff" stroke-width="0.303">0.0</text>
<line x1="94.0" y1="649.96" x2="97.5" y2="649.96" stroke="#555" stroke-width="1.15"/>
<text transform="translate(58.031,660.144) scale(0.9692,1.0240)" font-size="28" fill="#000"  stroke="#fff" stroke-width="0.301">0.2</text>
<line x1="94.0" y1="576.02" x2="97.5" y2="576.02" stroke="#555" stroke-width="1.15"/>
<text transform="translate(58.060,586.144) scale(0.9403,1.0240)" font-size="28" fill="#000"  stroke="#fff" stroke-width="0.305">0.4</text>
<line x1="94.0" y1="502.08" x2="97.5" y2="502.08" stroke="#555" stroke-width="1.15"/>
<text transform="translate(58.053,512.244) scale(0.9474,1.0240)" font-size="28" fill="#000"  stroke="#fff" stroke-width="0.304">0.6</text>
<line x1="94.0" y1="428.14" x2="97.5" y2="428.14" stroke="#555" stroke-width="1.15"/>
<text transform="translate(58.045,438.294) scale(0.9545,1.0240)" font-size="28" fill="#000"  stroke="#fff" stroke-width="0.303">0.8</text>
<line x1="94.0" y1="354.20" x2="97.5" y2="354.20" stroke="#555" stroke-width="1.15"/>
<text transform="translate(57.471,364.344) scale(0.9714,1.0240)" font-size="28" fill="#000"  stroke="#fff" stroke-width="0.301">1.0</text>
<line x1="122.6" y1="739.6" x2="122.6" y2="743.1" stroke="#555" stroke-width="1.15"/>
<line x1="631.4" y1="739.6" x2="631.4" y2="743.1" stroke="#555" stroke-width="1.15"/>
<text transform="translate(116.175,765.643) scale(0.9250,1.0293)" font-size="28" fill="#000"  stroke="#fff" stroke-width="0.307">0</text>
<text transform="translate(611.100,765.898) scale(1.0000,0.9670)" font-size="28" fill="#000"  stroke="#fff" stroke-width="0.305"><tspan font-style="italic">β</tspan></text>
<text transform="translate(639.889,766.500) scale(0.9689,0.9568)" font-size="28" fill="#000"  stroke="#fff" stroke-width="0.312">2</text>
<text transform="translate(49.000,555.640) rotate(-90) scale(1.0806,1.0182)" font-size="36" fill="#000"  stroke="#fff" stroke-width="0.381"><tspan font-style="italic">Z̄r</tspan></text>
<text transform="translate(123.196,687.360) scale(0.9628,1.1200)" font-size="28" fill="#000"  stroke="#fff" stroke-width="0.288">(<tspan font-style="italic" font-size="24.2">b</tspan>)</text>
<line x1="638.3" y1="746.3" x2="628.4" y2="773.2" stroke="#000" stroke-width="1.35"/>
<path d="M373.9,790.1 C374.9,787.8 376.4,786.6 378.6,786.5 L388.3,786.5" stroke="#000" stroke-width="1.8" fill="none" stroke-linecap="round"/>
<path d="M381.5,787.2 C380.2,791.5 378.8,796 377.6,801" stroke="#000" stroke-width="2.1" fill="none"/>
<rect x="174.2" y="345.2" width="125.7" height="112.2" rx="3" fill="#fff" fill-opacity="0.8" stroke="#d6d6d6" stroke-width="1"/>
<text transform="translate(205.565,368.227) scale(1.0609,1.0049)" font-size="22.5" fill="#000" ><tspan font-style="italic">β</tspan></text>
<text transform="translate(224.671,371.368) scale(1.4286,1.1091)" font-size="22.5" fill="#000" >=</text>
<text transform="translate(247.711,369.148) scale(0.9788,1.0098)" font-size="22.5" fill="#000" >40</text>
<line x1="200.2" y1="378.90" x2="200.2" y2="398.50" stroke="#7b8894" stroke-width="1.8"/>
<circle cx="200.2" cy="388.70" r="1.85" fill="none" stroke="#0000ff" stroke-width="1.4"/>
<path d="M234.00,394.90 L240.25,382.60 L246.50,394.90 Z M235.61,393.60 L244.04,393.60 L239.83,385.30 Z" fill="#000" fill-rule="evenodd"/>
<text transform="translate(251.570,395.900) scale(1.4303,0.9333)" font-size="18" fill="#000" >=</text>
<text transform="translate(270.181,395.149) scale(0.9590,1.0041)" font-size="18" fill="#000" >0.1</text>
<line x1="200.2" y1="404.70" x2="200.2" y2="424.30" stroke="#7b8894" stroke-width="1.8"/>
<circle cx="200.2" cy="414.50" r="1.85" fill="none" stroke="#00f87c" stroke-width="1.4"/>
<path d="M234.00,420.40 L240.25,408.10 L246.50,420.40 Z M235.61,419.10 L244.04,419.10 L239.83,410.80 Z" fill="#000" fill-rule="evenodd"/>
<text transform="translate(251.570,421.400) scale(1.4303,0.9333)" font-size="18" fill="#000" >=</text>
<text transform="translate(270.132,421.335) scale(1.0238,1.0612)" font-size="18" fill="#000" >0.5</text>
<line x1="200.2" y1="430.50" x2="200.2" y2="450.10" stroke="#7b8894" stroke-width="1.8"/>
<circle cx="200.2" cy="440.30" r="1.85" fill="none" stroke="#ff0000" stroke-width="1.4"/>
<path d="M234.00,445.90 L240.25,433.60 L246.50,445.90 Z M235.61,444.60 L244.04,444.60 L239.83,436.30 Z" fill="#000" fill-rule="evenodd"/>
<text transform="translate(251.570,446.900) scale(1.4303,0.9333)" font-size="18" fill="#000" >=</text>
<text transform="translate(269.854,446.700) scale(1.0308,1.0553)" font-size="18" fill="#000" >1</text>
<path d="M378,612 L459.5,541.3" stroke="#000" stroke-width="1.5" fill="none"/>
<path d="M452.5,541.8 L459.8,541 L457.8,548.2" stroke="#000" stroke-width="1.5" fill="none"/>
<rect x="373.2" y="342.7" width="282.00000000000006" height="161.2" fill="#fff" stroke="#555" stroke-width="1.15"/>
<path d="M385.40,347.10V352.30M385.58,349.05V354.25M385.75,350.95V356.15M385.93,352.79V357.99M386.11,354.59V359.79M386.29,356.34V361.54M386.46,358.05V363.25M386.64,359.71V364.91M386.82,361.33V366.53M387.00,362.91V368.11M387.17,364.45V369.65M387.53,367.42V372.62M387.88,370.25V375.45M388.24,372.95V378.15M388.59,375.52V380.72M388.95,377.98V383.18M389.30,380.34V385.54M389.66,382.59V387.79M390.01,384.74V389.94M390.37,386.81V392.01M390.72,388.79V393.99M391.08,390.70V395.90M391.44,392.53V397.73M391.79,394.29V399.49M392.14,395.99V401.19M392.50,397.63V402.83M392.85,399.20V404.40M393.21,400.72V405.92M393.56,402.19V407.39M393.92,403.61V408.81M394.27,404.98V410.18M394.63,406.31V411.51M394.98,407.60V412.80M395.34,408.84V414.04M395.69,410.05V415.25M396.05,411.22V416.42M396.40,412.35V417.55M396.76,413.45V418.65M397.11,414.52V419.72M397.47,415.56V420.76M397.82,416.57V421.77M398.18,417.55V422.75M398.53,418.51V423.71M398.89,419.44V424.64M399.25,420.35V425.55M399.60,421.23V426.43M399.95,422.09V427.29M400.31,422.92V428.12M400.66,423.74V428.94M401.02,424.54V429.74M401.38,425.31V430.51M401.73,426.07V431.27M402.08,426.81V432.01M402.44,427.53V432.73M402.79,428.24V433.44M403.15,428.93V434.13M403.50,429.60V434.80M403.86,430.26V435.46M404.21,430.91V436.11M404.57,431.54V436.74M404.92,432.16V437.36M405.81,433.64V438.84M406.70,435.05V440.25M407.59,436.39V441.59M408.47,437.66V442.86M409.36,438.87V444.07M410.25,440.03V445.23M411.14,441.13V446.33M412.02,442.19V447.39M412.91,443.20V448.40M413.80,444.17V449.37M414.69,445.09V450.29M415.57,445.98V451.18M416.46,446.84V452.04M417.35,447.66V452.86M418.24,448.45V453.65M419.12,449.21V454.41M420.01,449.95V455.15M420.90,450.66V455.86M421.79,451.34V456.54M422.67,452.00V457.20M423.56,452.64V457.84M424.45,453.26V458.46M425.34,453.86V459.06M426.22,454.44V459.64M427.11,455.01V460.21M428.00,455.55V460.75M428.89,456.08V461.28M429.77,456.60V461.80M430.66,457.10V462.30M431.55,457.59V462.79M432.44,458.06V463.26M433.32,458.52V463.72M434.21,458.97V464.17M435.10,459.41V464.61M435.99,459.83V465.03M436.88,460.25V465.45M437.76,460.65V465.85M438.65,461.04V466.24M439.54,461.42V466.62M440.42,461.80V467.00M441.31,462.16V467.36M442.20,462.52V467.72M443.09,462.86V468.06M443.97,463.20V468.40M444.86,463.53V468.73M445.75,463.85V469.05M446.64,464.17V469.37M447.52,464.47V469.67M448.41,464.77V469.97M449.30,465.06V470.26M450.19,465.34V470.54M451.07,465.62V470.82M451.96,465.88V471.08M452.85,466.15V471.35M453.74,466.40V471.60M454.62,466.65V471.85M455.51,466.89V472.09M456.40,467.12V472.32M457.29,467.35V472.55M458.17,467.57V472.77M459.06,467.79V472.99M459.95,467.99V473.19M460.84,468.20V473.40M461.72,468.39V473.59M462.61,468.58V473.78M463.50,468.77V473.97M464.39,468.94V474.14M465.27,469.12V474.32M466.16,469.28V474.48M467.05,469.44V474.64M467.94,469.59V474.79M468.82,469.74V474.94M469.71,469.88V475.08M470.60,470.02V475.22M471.49,470.15V475.35M472.38,470.28V475.48M473.26,470.40V475.60M474.15,470.51V475.71M475.04,470.62V475.82M475.92,470.72V475.92M476.81,470.82V476.02M477.70,470.91V476.11M478.59,470.99V476.19M479.47,471.07V476.27M480.36,471.15V476.35M481.25,471.22V476.42M482.14,471.28V476.48M483.02,471.34V476.54M483.91,471.39V476.59M484.80,471.44V476.64M485.69,471.48V476.68M486.57,471.51V476.71M487.46,471.54V476.74M488.35,471.57V476.77M489.24,471.59V476.79M490.12,471.60V476.80M491.01,471.61V476.81M491.90,471.61V476.81M492.79,471.61V476.81" stroke="#c9d6ea" stroke-width="1.2" fill="none"/>
<g fill="#0000e6"><circle cx="385.40" cy="349.70" r="1.05"/><circle cx="385.58" cy="351.65" r="1.05"/><circle cx="385.75" cy="353.55" r="1.05"/><circle cx="385.93" cy="355.39" r="1.05"/><circle cx="386.11" cy="357.19" r="1.05"/><circle cx="386.29" cy="358.94" r="1.05"/><circle cx="386.46" cy="360.65" r="1.05"/><circle cx="386.64" cy="362.31" r="1.05"/><circle cx="386.82" cy="363.93" r="1.05"/><circle cx="387.00" cy="365.51" r="1.05"/><circle cx="387.17" cy="367.05" r="1.05"/><circle cx="387.53" cy="370.02" r="1.05"/><circle cx="387.88" cy="372.85" r="1.05"/><circle cx="388.24" cy="375.55" r="1.05"/><circle cx="388.59" cy="378.12" r="1.05"/><circle cx="388.95" cy="380.58" r="1.05"/><circle cx="389.30" cy="382.94" r="1.05"/><circle cx="389.66" cy="385.19" r="1.05"/><circle cx="390.01" cy="387.34" r="1.05"/><circle cx="390.37" cy="389.41" r="1.05"/><circle cx="390.72" cy="391.39" r="1.05"/><circle cx="391.08" cy="393.30" r="1.05"/><circle cx="391.44" cy="395.13" r="1.05"/><circle cx="391.79" cy="396.89" r="1.05"/><circle cx="392.14" cy="398.59" r="1.05"/><circle cx="392.50" cy="400.23" r="1.05"/><circle cx="392.85" cy="401.80" r="1.05"/><circle cx="393.21" cy="403.32" r="1.05"/><circle cx="393.56" cy="404.79" r="1.05"/><circle cx="393.92" cy="406.21" r="1.05"/><circle cx="394.27" cy="407.58" r="1.05"/><circle cx="394.63" cy="408.91" r="1.05"/><circle cx="394.98" cy="410.20" r="1.05"/><circle cx="395.34" cy="411.44" r="1.05"/><circle cx="395.69" cy="412.65" r="1.05"/><circle cx="396.05" cy="413.82" r="1.05"/><circle cx="396.40" cy="414.95" r="1.05"/><circle cx="396.76" cy="416.05" r="1.05"/><circle cx="397.11" cy="417.12" r="1.05"/><circle cx="397.47" cy="418.16" r="1.05"/><circle cx="397.82" cy="419.17" r="1.05"/><circle cx="398.18" cy="420.15" r="1.05"/><circle cx="398.53" cy="421.11" r="1.05"/><circle cx="398.89" cy="422.04" r="1.05"/><circle cx="399.25" cy="422.95" r="1.05"/><circle cx="399.60" cy="423.83" r="1.05"/><circle cx="399.95" cy="424.69" r="1.05"/><circle cx="400.31" cy="425.52" r="1.05"/><circle cx="400.66" cy="426.34" r="1.05"/><circle cx="401.02" cy="427.14" r="1.05"/><circle cx="401.38" cy="427.91" r="1.05"/><circle cx="401.73" cy="428.67" r="1.05"/><circle cx="402.08" cy="429.41" r="1.05"/><circle cx="402.44" cy="430.13" r="1.05"/><circle cx="402.79" cy="430.84" r="1.05"/><circle cx="403.15" cy="431.53" r="1.05"/><circle cx="403.50" cy="432.20" r="1.05"/><circle cx="403.86" cy="432.86" r="1.05"/><circle cx="404.21" cy="433.51" r="1.05"/><circle cx="404.57" cy="434.14" r="1.05"/><circle cx="404.92" cy="434.76" r="1.05"/><circle cx="405.81" cy="436.24" r="1.05"/><circle cx="406.70" cy="437.65" r="1.05"/><circle cx="407.59" cy="438.99" r="1.05"/><circle cx="408.47" cy="440.26" r="1.05"/><circle cx="409.36" cy="441.47" r="1.05"/><circle cx="410.25" cy="442.63" r="1.05"/><circle cx="411.14" cy="443.73" r="1.05"/><circle cx="412.02" cy="444.79" r="1.05"/><circle cx="412.91" cy="445.80" r="1.05"/><circle cx="413.80" cy="446.77" r="1.05"/><circle cx="414.69" cy="447.69" r="1.05"/><circle cx="415.57" cy="448.58" r="1.05"/><circle cx="416.46" cy="449.44" r="1.05"/><circle cx="417.35" cy="450.26" r="1.05"/><circle cx="418.24" cy="451.05" r="1.05"/><circle cx="419.12" cy="451.81" r="1.05"/><circle cx="420.01" cy="452.55" r="1.05"/><circle cx="420.90" cy="453.26" r="1.05"/><circle cx="421.79" cy="453.94" r="1.05"/><circle cx="422.67" cy="454.60" r="1.05"/><circle cx="423.56" cy="455.24" r="1.05"/><circle cx="424.45" cy="455.86" r="1.05"/><circle cx="425.34" cy="456.46" r="1.05"/><circle cx="426.22" cy="457.04" r="1.05"/><circle cx="427.11" cy="457.61" r="1.05"/><circle cx="428.00" cy="458.15" r="1.05"/><circle cx="428.89" cy="458.68" r="1.05"/><circle cx="429.77" cy="459.20" r="1.05"/><circle cx="430.66" cy="459.70" r="1.05"/><circle cx="431.55" cy="460.19" r="1.05"/><circle cx="432.44" cy="460.66" r="1.05"/><circle cx="433.32" cy="461.12" r="1.05"/><circle cx="434.21" cy="461.57" r="1.05"/><circle cx="435.10" cy="462.01" r="1.05"/><circle cx="435.99" cy="462.43" r="1.05"/><circle cx="436.88" cy="462.85" r="1.05"/><circle cx="437.76" cy="463.25" r="1.05"/><circle cx="438.65" cy="463.64" r="1.05"/><circle cx="439.54" cy="464.02" r="1.05"/><circle cx="440.42" cy="464.40" r="1.05"/><circle cx="441.31" cy="464.76" r="1.05"/><circle cx="442.20" cy="465.12" r="1.05"/><circle cx="443.09" cy="465.46" r="1.05"/><circle cx="443.97" cy="465.80" r="1.05"/><circle cx="444.86" cy="466.13" r="1.05"/><circle cx="445.75" cy="466.45" r="1.05"/><circle cx="446.64" cy="466.77" r="1.05"/><circle cx="447.52" cy="467.07" r="1.05"/><circle cx="448.41" cy="467.37" r="1.05"/><circle cx="449.30" cy="467.66" r="1.05"/><circle cx="450.19" cy="467.94" r="1.05"/><circle cx="451.07" cy="468.22" r="1.05"/><circle cx="451.96" cy="468.48" r="1.05"/><circle cx="452.85" cy="468.75" r="1.05"/><circle cx="453.74" cy="469.00" r="1.05"/><circle cx="454.62" cy="469.25" r="1.05"/><circle cx="455.51" cy="469.49" r="1.05"/><circle cx="456.40" cy="469.72" r="1.05"/><circle cx="457.29" cy="469.95" r="1.05"/><circle cx="458.17" cy="470.17" r="1.05"/><circle cx="459.06" cy="470.39" r="1.05"/><circle cx="459.95" cy="470.59" r="1.05"/><circle cx="460.84" cy="470.80" r="1.05"/><circle cx="461.72" cy="470.99" r="1.05"/><circle cx="462.61" cy="471.18" r="1.05"/><circle cx="463.50" cy="471.37" r="1.05"/><circle cx="464.39" cy="471.54" r="1.05"/><circle cx="465.27" cy="471.72" r="1.05"/><circle cx="466.16" cy="471.88" r="1.05"/><circle cx="467.05" cy="472.04" r="1.05"/><circle cx="467.94" cy="472.19" r="1.05"/><circle cx="468.82" cy="472.34" r="1.05"/><circle cx="469.71" cy="472.48" r="1.05"/><circle cx="470.60" cy="472.62" r="1.05"/><circle cx="471.49" cy="472.75" r="1.05"/><circle cx="472.38" cy="472.88" r="1.05"/><circle cx="473.26" cy="473.00" r="1.05"/><circle cx="474.15" cy="473.11" r="1.05"/><circle cx="475.04" cy="473.22" r="1.05"/><circle cx="475.92" cy="473.32" r="1.05"/><circle cx="476.81" cy="473.42" r="1.05"/><circle cx="477.70" cy="473.51" r="1.05"/><circle cx="478.59" cy="473.59" r="1.05"/><circle cx="479.47" cy="473.67" r="1.05"/><circle cx="480.36" cy="473.75" r="1.05"/><circle cx="481.25" cy="473.82" r="1.05"/><circle cx="482.14" cy="473.88" r="1.05"/><circle cx="483.02" cy="473.94" r="1.05"/><circle cx="483.91" cy="473.99" r="1.05"/><circle cx="484.80" cy="474.04" r="1.05"/><circle cx="485.69" cy="474.08" r="1.05"/><circle cx="486.57" cy="474.11" r="1.05"/><circle cx="487.46" cy="474.14" r="1.05"/><circle cx="488.35" cy="474.17" r="1.05"/><circle cx="489.24" cy="474.19" r="1.05"/><circle cx="490.12" cy="474.20" r="1.05"/><circle cx="491.01" cy="474.21" r="1.05"/><circle cx="491.90" cy="474.21" r="1.05"/><circle cx="492.79" cy="474.21" r="1.05"/></g>
<path d="M385.40,348.18V351.18M385.77,352.00V355.00M386.15,355.64V358.64M386.52,359.13V362.13M386.89,362.46V365.46M387.26,365.65V368.65M387.64,368.70V371.70M388.01,371.62V374.62M388.38,374.42V377.42M388.75,377.11V380.11M389.13,379.68V382.68M389.50,382.15V385.15M389.87,384.52V387.52M390.25,386.80V389.80M390.62,388.99V391.99M390.72,389.60V392.60M391.79,395.33V398.33M392.85,400.48V403.48M393.92,405.12V408.12M394.98,409.32V412.32M396.05,413.13V416.13M397.11,416.60V419.60M398.18,419.77V422.77M399.25,422.68V425.68M400.31,425.36V428.36M401.38,427.84V430.84M402.44,430.13V433.13M403.50,432.26V435.26M404.57,434.24V437.24M405.63,436.09V439.09M406.70,437.83V440.83M407.76,439.46V442.46M408.83,440.99V443.99M409.89,442.44V445.44M410.96,443.80V446.80M412.02,445.10V448.10M415.01,448.39V451.39M417.99,451.27V454.27M420.97,453.83V456.83M423.95,456.11V459.11M426.94,458.17V461.17M429.92,460.04V463.04M432.90,461.74V464.74M435.88,463.30V466.30M438.86,464.73V467.73M441.85,466.04V469.04M444.83,467.25V470.25M447.81,468.37V471.37M450.79,469.41V472.41M453.77,470.37V473.37M456.75,471.28V474.28M459.74,472.13V475.13M462.72,472.94V475.94M465.70,473.72V476.72M468.68,474.46V477.46M471.67,475.18V478.18M474.65,475.87V478.87M477.63,476.55V479.55M480.61,477.21V480.21M483.59,477.84V480.84M486.58,478.46V481.46M489.56,479.06V482.06M492.54,479.64V482.64M495.52,480.20V483.20M498.50,480.74V483.74M501.49,481.26V484.26M504.47,481.76V484.76M507.45,482.24V485.24M510.43,482.70V485.70M513.41,483.14V486.14M516.40,483.57V486.57M519.38,483.97V486.97M522.36,484.36V487.36M525.34,484.74V487.74M528.32,485.09V488.09M531.31,485.44V488.44M534.29,485.76V488.76" stroke="#cfe3f0" stroke-width="0.8" fill="none"/>
<path d="M385.40,348.20V351.20M385.83,352.55V355.55M386.25,356.68V359.68M386.68,360.60V363.60M387.10,364.32V367.32M387.53,367.86V370.86M387.96,371.24V374.24M388.38,374.45V377.45M388.81,377.51V380.51M389.23,380.42V383.42M389.66,383.20V386.20M390.09,385.86V388.86M390.51,388.40V391.40M390.72,389.62V392.62M392.06,396.70V399.70M393.39,402.90V405.90M394.72,408.35V411.35M396.05,413.17V416.17M397.38,417.46V420.46M398.71,421.31V424.31M400.04,424.77V427.77M401.38,427.90V430.90M402.71,430.74V433.74M404.04,433.34V436.34M405.37,435.73V438.73M406.70,437.92V440.92M408.03,439.95V442.95M409.36,441.84V444.84M410.69,443.59V446.59M412.02,445.24V448.24M416.02,449.59V452.59M420.01,453.28V456.28M424.01,456.47V459.47M428.00,459.28V462.28M431.99,461.79V464.79M435.99,464.06V467.06M439.98,466.13V469.13M443.97,468.03V471.03M447.97,469.79V472.79M451.96,471.42V474.42M455.96,472.93V475.93M459.95,474.34V477.34M463.94,475.66V478.66M467.94,476.89V479.89M471.93,478.04V481.04M475.92,479.11V482.11M479.92,480.12V483.12M483.91,481.06V484.06M487.91,481.93V484.93M491.90,482.75V485.75M495.89,483.51V486.51M499.89,484.22V487.22M503.88,484.88V487.88M507.88,485.50V488.50M511.87,486.08V489.08M515.86,486.61V489.61M519.86,487.11V490.11M523.85,487.58V490.58M527.84,488.01V491.01M531.84,488.42V491.42M535.83,488.81V491.81M539.83,489.17V492.17M543.82,489.51V492.51M547.81,489.84V492.84M551.81,490.14V493.14M555.80,490.43V493.43M559.79,490.71V493.71M563.79,490.97V493.97M567.78,491.21V494.21M571.77,491.45V494.45M575.77,491.67V494.67M579.76,491.88V494.88M583.76,492.08V495.08M587.75,492.26V495.26" stroke="#d4f2f4" stroke-width="0.8" fill="none"/>
<path d="M385.40,348.20V351.20M385.93,353.60V356.60M386.46,358.66V361.66M387.00,363.41V366.41M387.53,367.87V370.87M388.06,372.06V375.06M388.59,376.00V379.00M389.13,379.71V382.71M389.66,383.21V386.21M390.19,386.51V389.51M390.72,389.63V392.63M392.32,398.01V401.01M393.92,405.16V408.16M395.52,411.31V414.31M397.11,416.65V419.65M398.71,421.31V424.31M400.31,425.42V428.42M401.91,429.07V432.07M403.50,432.34V435.34M405.10,435.27V438.27M406.70,437.93V440.93M408.30,440.35V443.35M409.89,442.56V445.56M411.49,444.60V447.60M412.02,445.24V448.24M417.03,450.59V453.59M422.04,454.97V457.97M427.04,458.65V461.65M432.05,461.84V464.84M437.05,464.66V467.66M442.06,467.17V470.17M447.06,469.44V472.44M452.07,471.51V474.51M457.07,473.40V476.40M462.08,475.13V478.13M467.09,476.73V479.73M472.09,478.20V481.20M477.10,479.56V482.56M482.10,480.82V483.82M487.11,481.98V484.98M492.11,483.06V486.06M497.12,484.05V487.05M502.12,484.98V487.98M507.13,485.83V488.83M512.13,486.62V489.62M517.14,487.35V490.35M522.15,488.03V491.03M527.15,488.65V491.65M532.16,489.23V492.23M537.16,489.77V492.77M542.17,490.27V493.27M547.17,490.73V493.73M552.18,491.16V494.16M557.18,491.55V494.55M562.19,491.92V494.92M567.20,492.26V495.26M572.20,492.57V495.57M577.21,492.86V495.86M582.21,493.13V496.13M587.22,493.38V496.38M592.22,493.61V496.61M597.23,493.83V496.83M602.23,494.02V497.02M607.24,494.21V497.21M612.24,494.38V497.38M617.25,494.53V497.53M622.26,494.68V497.68M627.26,494.81V497.81M632.27,494.94V497.94M637.27,495.05V498.05M642.28,495.16V498.16" stroke="#f0d4f0" stroke-width="0.8" fill="none"/>
<g fill="#1ea0e6"><circle cx="385.40" cy="349.68" r="1.35"/><circle cx="385.77" cy="353.50" r="1.35"/><circle cx="386.15" cy="357.14" r="1.35"/><circle cx="386.52" cy="360.63" r="1.35"/><circle cx="386.89" cy="363.96" r="1.35"/><circle cx="387.26" cy="367.15" r="1.35"/><circle cx="387.64" cy="370.20" r="1.35"/><circle cx="388.01" cy="373.12" r="1.35"/><circle cx="388.38" cy="375.92" r="1.35"/><circle cx="388.75" cy="378.61" r="1.35"/><circle cx="389.13" cy="381.18" r="1.35"/><circle cx="389.50" cy="383.65" r="1.35"/><circle cx="389.87" cy="386.02" r="1.35"/><circle cx="390.25" cy="388.30" r="1.35"/><circle cx="390.62" cy="390.49" r="1.35"/><circle cx="390.72" cy="391.10" r="1.35"/><circle cx="391.79" cy="396.83" r="1.35"/><circle cx="392.85" cy="401.98" r="1.35"/><circle cx="393.92" cy="406.62" r="1.35"/><circle cx="394.98" cy="410.82" r="1.35"/><circle cx="396.05" cy="414.63" r="1.35"/><circle cx="397.11" cy="418.10" r="1.35"/><circle cx="398.18" cy="421.27" r="1.35"/><circle cx="399.25" cy="424.18" r="1.35"/><circle cx="400.31" cy="426.86" r="1.35"/><circle cx="401.38" cy="429.34" r="1.35"/><circle cx="402.44" cy="431.63" r="1.35"/><circle cx="403.50" cy="433.76" r="1.35"/><circle cx="404.57" cy="435.74" r="1.35"/><circle cx="405.63" cy="437.59" r="1.35"/><circle cx="406.70" cy="439.33" r="1.35"/><circle cx="407.76" cy="440.96" r="1.35"/><circle cx="408.83" cy="442.49" r="1.35"/><circle cx="409.89" cy="443.94" r="1.35"/><circle cx="410.96" cy="445.30" r="1.35"/><circle cx="412.02" cy="446.60" r="1.35"/><circle cx="415.01" cy="449.89" r="1.35"/><circle cx="417.99" cy="452.77" r="1.35"/><circle cx="420.97" cy="455.33" r="1.35"/><circle cx="423.95" cy="457.61" r="1.35"/><circle cx="426.94" cy="459.67" r="1.35"/><circle cx="429.92" cy="461.54" r="1.35"/><circle cx="432.90" cy="463.24" r="1.35"/><circle cx="435.88" cy="464.80" r="1.35"/><circle cx="438.86" cy="466.23" r="1.35"/><circle cx="441.85" cy="467.54" r="1.35"/><circle cx="444.83" cy="468.75" r="1.35"/><circle cx="447.81" cy="469.87" r="1.35"/><circle cx="450.79" cy="470.91" r="1.35"/><circle cx="453.77" cy="471.87" r="1.35"/><circle cx="456.75" cy="472.78" r="1.35"/><circle cx="459.74" cy="473.63" r="1.35"/><circle cx="462.72" cy="474.44" r="1.35"/><circle cx="465.70" cy="475.22" r="1.35"/><circle cx="468.68" cy="475.96" r="1.35"/><circle cx="471.67" cy="476.68" r="1.35"/><circle cx="474.65" cy="477.37" r="1.35"/><circle cx="477.63" cy="478.05" r="1.35"/><circle cx="480.61" cy="478.71" r="1.35"/><circle cx="483.59" cy="479.34" r="1.35"/><circle cx="486.58" cy="479.96" r="1.35"/><circle cx="489.56" cy="480.56" r="1.35"/><circle cx="492.54" cy="481.14" r="1.35"/><circle cx="495.52" cy="481.70" r="1.35"/><circle cx="498.50" cy="482.24" r="1.35"/><circle cx="501.49" cy="482.76" r="1.35"/><circle cx="504.47" cy="483.26" r="1.35"/><circle cx="507.45" cy="483.74" r="1.35"/><circle cx="510.43" cy="484.20" r="1.35"/><circle cx="513.41" cy="484.64" r="1.35"/><circle cx="516.40" cy="485.07" r="1.35"/><circle cx="519.38" cy="485.47" r="1.35"/><circle cx="522.36" cy="485.86" r="1.35"/><circle cx="525.34" cy="486.24" r="1.35"/><circle cx="528.32" cy="486.59" r="1.35"/><circle cx="531.31" cy="486.94" r="1.35"/><circle cx="534.29" cy="487.26" r="1.35"/></g>
<g fill="#00e8f0"><circle cx="385.40" cy="349.70" r="1.35"/><circle cx="385.83" cy="354.05" r="1.35"/><circle cx="386.25" cy="358.18" r="1.35"/><circle cx="386.68" cy="362.10" r="1.35"/><circle cx="387.10" cy="365.82" r="1.35"/><circle cx="387.53" cy="369.36" r="1.35"/><circle cx="387.96" cy="372.74" r="1.35"/><circle cx="388.38" cy="375.95" r="1.35"/><circle cx="388.81" cy="379.01" r="1.35"/><circle cx="389.23" cy="381.92" r="1.35"/><circle cx="389.66" cy="384.70" r="1.35"/><circle cx="390.09" cy="387.36" r="1.35"/><circle cx="390.51" cy="389.90" r="1.35"/><circle cx="390.72" cy="391.12" r="1.35"/><circle cx="392.06" cy="398.20" r="1.35"/><circle cx="393.39" cy="404.40" r="1.35"/><circle cx="394.72" cy="409.85" r="1.35"/><circle cx="396.05" cy="414.67" r="1.35"/><circle cx="397.38" cy="418.96" r="1.35"/><circle cx="398.71" cy="422.81" r="1.35"/><circle cx="400.04" cy="426.27" r="1.35"/><circle cx="401.38" cy="429.40" r="1.35"/><circle cx="402.71" cy="432.24" r="1.35"/><circle cx="404.04" cy="434.84" r="1.35"/><circle cx="405.37" cy="437.23" r="1.35"/><circle cx="406.70" cy="439.42" r="1.35"/><circle cx="408.03" cy="441.45" r="1.35"/><circle cx="409.36" cy="443.34" r="1.35"/><circle cx="410.69" cy="445.09" r="1.35"/><circle cx="412.02" cy="446.74" r="1.35"/><circle cx="416.02" cy="451.09" r="1.35"/><circle cx="420.01" cy="454.78" r="1.35"/><circle cx="424.01" cy="457.97" r="1.35"/><circle cx="428.00" cy="460.78" r="1.35"/><circle cx="431.99" cy="463.29" r="1.35"/><circle cx="435.99" cy="465.56" r="1.35"/><circle cx="439.98" cy="467.63" r="1.35"/><circle cx="443.97" cy="469.53" r="1.35"/><circle cx="447.97" cy="471.29" r="1.35"/><circle cx="451.96" cy="472.92" r="1.35"/><circle cx="455.96" cy="474.43" r="1.35"/><circle cx="459.95" cy="475.84" r="1.35"/><circle cx="463.94" cy="477.16" r="1.35"/><circle cx="467.94" cy="478.39" r="1.35"/><circle cx="471.93" cy="479.54" r="1.35"/><circle cx="475.92" cy="480.61" r="1.35"/><circle cx="479.92" cy="481.62" r="1.35"/><circle cx="483.91" cy="482.56" r="1.35"/><circle cx="487.91" cy="483.43" r="1.35"/><circle cx="491.90" cy="484.25" r="1.35"/><circle cx="495.89" cy="485.01" r="1.35"/><circle cx="499.89" cy="485.72" r="1.35"/><circle cx="503.88" cy="486.38" r="1.35"/><circle cx="507.88" cy="487.00" r="1.35"/><circle cx="511.87" cy="487.58" r="1.35"/><circle cx="515.86" cy="488.11" r="1.35"/><circle cx="519.86" cy="488.61" r="1.35"/><circle cx="523.85" cy="489.08" r="1.35"/><circle cx="527.84" cy="489.51" r="1.35"/><circle cx="531.84" cy="489.92" r="1.35"/><circle cx="535.83" cy="490.31" r="1.35"/><circle cx="539.83" cy="490.67" r="1.35"/><circle cx="543.82" cy="491.01" r="1.35"/><circle cx="547.81" cy="491.34" r="1.35"/><circle cx="551.81" cy="491.64" r="1.35"/><circle cx="555.80" cy="491.93" r="1.35"/><circle cx="559.79" cy="492.21" r="1.35"/><circle cx="563.79" cy="492.47" r="1.35"/><circle cx="567.78" cy="492.71" r="1.35"/><circle cx="571.77" cy="492.95" r="1.35"/><circle cx="575.77" cy="493.17" r="1.35"/><circle cx="579.76" cy="493.38" r="1.35"/><circle cx="583.76" cy="493.58" r="1.35"/><circle cx="587.75" cy="493.76" r="1.35"/></g>
<g fill="#ff00ff"><circle cx="385.40" cy="349.70" r="1.4"/><circle cx="385.93" cy="355.10" r="1.4"/><circle cx="386.46" cy="360.16" r="1.4"/><circle cx="387.00" cy="364.91" r="1.4"/><circle cx="387.53" cy="369.37" r="1.4"/><circle cx="388.06" cy="373.56" r="1.4"/><circle cx="388.59" cy="377.50" r="1.4"/><circle cx="389.13" cy="381.21" r="1.4"/><circle cx="389.66" cy="384.71" r="1.4"/><circle cx="390.19" cy="388.01" r="1.4"/><circle cx="390.72" cy="391.13" r="1.4"/><circle cx="392.32" cy="399.51" r="1.4"/><circle cx="393.92" cy="406.66" r="1.4"/><circle cx="395.52" cy="412.81" r="1.4"/><circle cx="397.11" cy="418.15" r="1.4"/><circle cx="398.71" cy="422.81" r="1.4"/><circle cx="400.31" cy="426.92" r="1.4"/><circle cx="401.91" cy="430.57" r="1.4"/><circle cx="403.50" cy="433.84" r="1.4"/><circle cx="405.10" cy="436.77" r="1.4"/><circle cx="406.70" cy="439.43" r="1.4"/><circle cx="408.30" cy="441.85" r="1.4"/><circle cx="409.89" cy="444.06" r="1.4"/><circle cx="411.49" cy="446.10" r="1.4"/><circle cx="412.02" cy="446.74" r="1.4"/><circle cx="417.03" cy="452.09" r="1.4"/><circle cx="422.04" cy="456.47" r="1.4"/><circle cx="427.04" cy="460.15" r="1.4"/><circle cx="432.05" cy="463.34" r="1.4"/><circle cx="437.05" cy="466.16" r="1.4"/><circle cx="442.06" cy="468.67" r="1.4"/><circle cx="447.06" cy="470.94" r="1.4"/><circle cx="452.07" cy="473.01" r="1.4"/><circle cx="457.07" cy="474.90" r="1.4"/><circle cx="462.08" cy="476.63" r="1.4"/><circle cx="467.09" cy="478.23" r="1.4"/><circle cx="472.09" cy="479.70" r="1.4"/><circle cx="477.10" cy="481.06" r="1.4"/><circle cx="482.10" cy="482.32" r="1.4"/><circle cx="487.11" cy="483.48" r="1.4"/><circle cx="492.11" cy="484.56" r="1.4"/><circle cx="497.12" cy="485.55" r="1.4"/><circle cx="502.12" cy="486.48" r="1.4"/><circle cx="507.13" cy="487.33" r="1.4"/><circle cx="512.13" cy="488.12" r="1.4"/><circle cx="517.14" cy="488.85" r="1.4"/><circle cx="522.15" cy="489.53" r="1.4"/><circle cx="527.15" cy="490.15" r="1.4"/><circle cx="532.16" cy="490.73" r="1.4"/><circle cx="537.16" cy="491.27" r="1.4"/><circle cx="542.17" cy="491.77" r="1.4"/><circle cx="547.17" cy="492.23" r="1.4"/><circle cx="552.18" cy="492.66" r="1.4"/><circle cx="557.18" cy="493.05" r="1.4"/><circle cx="562.19" cy="493.42" r="1.4"/><circle cx="567.20" cy="493.76" r="1.4"/><circle cx="572.20" cy="494.07" r="1.4"/><circle cx="577.21" cy="494.36" r="1.4"/><circle cx="582.21" cy="494.63" r="1.4"/><circle cx="587.22" cy="494.88" r="1.4"/><circle cx="592.22" cy="495.11" r="1.4"/><circle cx="597.23" cy="495.33" r="1.4"/><circle cx="602.23" cy="495.52" r="1.4"/><circle cx="607.24" cy="495.71" r="1.4"/><circle cx="612.24" cy="495.88" r="1.4"/><circle cx="617.25" cy="496.03" r="1.4"/><circle cx="622.26" cy="496.18" r="1.4"/><circle cx="627.26" cy="496.31" r="1.4"/><circle cx="632.27" cy="496.44" r="1.4"/><circle cx="637.27" cy="496.55" r="1.4"/><circle cx="642.28" cy="496.66" r="1.4"/></g>
<line x1="370.2" y1="349.70" x2="373.2" y2="349.70" stroke="#555" stroke-width="1.1"/>
<text transform="translate(344.556,356.453) scale(0.9630,0.9878)" font-size="18" fill="#000" >1.0</text>
<line x1="370.2" y1="423.95" x2="373.2" y2="423.95" stroke="#555" stroke-width="1.1"/>
<text transform="translate(344.250,430.841) scale(1.0000,1.0367)" font-size="18" fill="#000" >0.5</text>
<line x1="370.2" y1="498.20" x2="373.2" y2="498.20" stroke="#555" stroke-width="1.1"/>
<text transform="translate(344.029,504.743) scale(1.0286,1.0286)" font-size="18" fill="#000" >0.0</text>
<line x1="385.4" y1="503.9" x2="385.4" y2="506.9" stroke="#555" stroke-width="1.1"/>
<text transform="translate(380.810,523.261) scale(1.0533,0.9551)" font-size="18" fill="#000" >0</text>
<line x1="491.9" y1="503.9" x2="491.9" y2="506.9" stroke="#555" stroke-width="1.1"/>
<text transform="translate(486.634,519.629) scale(0.9362,0.9569)" font-size="14" fill="#000" ><tspan font-style="italic">β</tspan><tspan font-size="10" dy="3">1</tspan></text>
<line x1="485.7" y1="523" x2="498.09999999999997" y2="523" stroke="#000" stroke-width="0.9"/>
<text transform="translate(488.455,533.900) scale(1.0909,0.9444)" font-size="13.5" fill="#000" >2</text>
<line x1="545.0" y1="503.9" x2="545.0" y2="506.9" stroke="#555" stroke-width="1.1"/>
<text transform="translate(539.834,519.629) scale(0.9362,0.9569)" font-size="14" fill="#000" ><tspan font-style="italic">β</tspan><tspan font-size="10" dy="3">2</tspan></text>
<line x1="538.8" y1="523" x2="551.2" y2="523" stroke="#000" stroke-width="0.9"/>
<text transform="translate(541.655,533.900) scale(1.0909,0.9444)" font-size="13.5" fill="#000" >2</text>
<line x1="597.9" y1="503.9" x2="597.9" y2="506.9" stroke="#555" stroke-width="1.1"/>
<text transform="translate(592.834,519.629) scale(0.9362,0.9569)" font-size="14" fill="#000" ><tspan font-style="italic">β</tspan><tspan font-size="10" dy="3">3</tspan></text>
<line x1="591.6999999999999" y1="523" x2="604.1" y2="523" stroke="#000" stroke-width="0.9"/>
<text transform="translate(594.655,533.900) scale(1.0909,0.9444)" font-size="13.5" fill="#000" >2</text>
<line x1="651.0" y1="503.9" x2="651.0" y2="506.9" stroke="#555" stroke-width="1.1"/>
<text transform="translate(645.929,519.629) scale(0.9167,0.9569)" font-size="14" fill="#000" ><tspan font-style="italic">β</tspan><tspan font-size="10" dy="3">4</tspan></text>
<line x1="644.8" y1="523" x2="657.2" y2="523" stroke="#000" stroke-width="0.9"/>
<text transform="translate(647.755,533.900) scale(1.0909,0.9444)" font-size="13.5" fill="#000" >2</text>
<text transform="translate(338.400,432.275) rotate(-90) scale(1.0985,1.0836)" font-size="18" fill="#000" ><tspan font-style="italic">Z̄r</tspan></text>
<path d="M511.3,544.1 C511.9,542.9 512.7,542.4 514,542.4 L518.5,542.3" stroke="#000" stroke-width="1.05" fill="none" stroke-linecap="round"/>
<path d="M515.2,542.6 C514.5,544.8 513.7,547 513.1,549.2" stroke="#000" stroke-width="1.25" fill="none" stroke-linecap="round"/>
<rect x="527.8" y="350.6" width="118.9" height="122.2" rx="3" fill="#fff" fill-opacity="0.8" stroke="#d6d6d6" stroke-width="1"/>
<path d="M558.30,370.20 L564.60,357.30 L570.90,370.20 Z M559.88,368.90 L568.48,368.90 L564.18,360.09 Z" fill="#000" fill-rule="evenodd"/>
<text transform="translate(576.112,371.432) scale(1.3882,0.9684)" font-size="18.5" fill="#000" >=</text>
<text transform="translate(594.676,370.644) scale(0.9647,1.0240)" font-size="18.5" fill="#000" >0.1</text>
<line x1="551.1" y1="379.00" x2="551.1" y2="397.00" stroke="#b8cce0" stroke-width="1"/>
<circle cx="551.1" cy="388.00" r="1.4" fill="#0000cd"/>
<text transform="translate(581.371,393.428) scale(1.0824,1.0207)" font-size="15.5" fill="#000" ><tspan font-style="italic">β</tspan><tspan font-size="11" dy="3.5">1</tspan></text>
<text transform="translate(599.993,395.887) scale(1.4759,1.2267)" font-size="15.5" fill="#000" >=</text>
<text transform="translate(617.158,394.200) scale(0.9695,1.0732)" font-size="15.5" fill="#000" >40</text>
<line x1="551.1" y1="402.10" x2="551.1" y2="420.10" stroke="#b8cce0" stroke-width="1"/>
<circle cx="551.1" cy="411.10" r="1.4" fill="#1e9fe0"/>
<text transform="translate(581.365,416.328) scale(1.0615,1.0207)" font-size="15.5" fill="#000" ><tspan font-style="italic">β</tspan><tspan font-size="11" dy="3.5">2</tspan></text>
<text transform="translate(599.993,418.787) scale(1.4759,1.2267)" font-size="15.5" fill="#000" >=</text>
<text transform="translate(616.647,417.100) scale(1.0035,1.0732)" font-size="15.5" fill="#000" >60</text>
<line x1="551.1" y1="425.20" x2="551.1" y2="443.20" stroke="#b8cce0" stroke-width="1"/>
<circle cx="551.1" cy="434.20" r="1.4" fill="#00e5f0"/>
<text transform="translate(581.365,439.228) scale(1.0615,1.0207)" font-size="15.5" fill="#000" ><tspan font-style="italic">β</tspan><tspan font-size="11" dy="3.5">3</tspan></text>
<text transform="translate(599.993,441.687) scale(1.4759,1.2267)" font-size="15.5" fill="#000" >=</text>
<text transform="translate(616.907,440.000) scale(0.9862,1.0732)" font-size="15.5" fill="#000" >80</text>
<line x1="551.1" y1="448.30" x2="551.1" y2="466.30" stroke="#b8cce0" stroke-width="1"/>
<circle cx="551.1" cy="457.30" r="1.4" fill="#ff00ff"/>
<text transform="translate(581.360,462.128) scale(1.0415,1.0207)" font-size="15.5" fill="#000" ><tspan font-style="italic">β</tspan><tspan font-size="11" dy="3.5">4</tspan></text>
<text transform="translate(599.993,464.587) scale(1.4759,1.2267)" font-size="15.5" fill="#000" >=</text>
<text transform="translate(616.121,462.900) scale(1.0233,1.0732)" font-size="15.5" fill="#000" >100</text>
</svg></body></html>
